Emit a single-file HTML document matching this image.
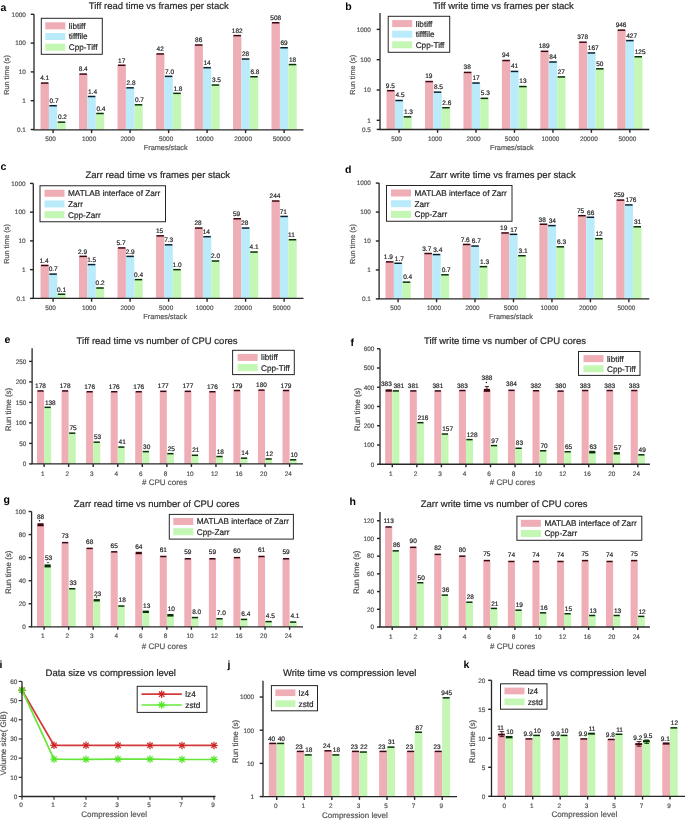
<!DOCTYPE html>
<html><head><meta charset="utf-8"><style>
html,body{margin:0;padding:0;background:#fff;}
svg{display:block;font-family:"Liberation Sans", sans-serif;text-rendering:geometricPrecision;will-change:transform;}
</style></head><body>
<svg width="685" height="820" viewBox="0 0 685 820">
<rect width="685" height="820" fill="#fff"/>
<rect x="40.50" y="83.05" width="8.40" height="46.75" fill="#efadb5"/>
<rect x="48.90" y="105.71" width="8.40" height="24.09" fill="#b9ebfa"/>
<rect x="57.30" y="122.15" width="8.40" height="7.65" fill="#c3f7b3"/>
<rect x="79.00" y="74.08" width="8.40" height="55.72" fill="#efadb5"/>
<rect x="87.40" y="96.49" width="8.40" height="33.31" fill="#b9ebfa"/>
<rect x="95.80" y="113.48" width="8.40" height="16.32" fill="#c3f7b3"/>
<rect x="117.50" y="65.26" width="8.40" height="64.54" fill="#efadb5"/>
<rect x="125.90" y="87.82" width="8.40" height="41.98" fill="#b9ebfa"/>
<rect x="134.30" y="104.81" width="8.40" height="24.99" fill="#c3f7b3"/>
<rect x="156.00" y="53.95" width="8.40" height="75.85" fill="#efadb5"/>
<rect x="164.40" y="76.36" width="8.40" height="53.44" fill="#b9ebfa"/>
<rect x="172.80" y="93.35" width="8.40" height="36.45" fill="#c3f7b3"/>
<rect x="194.50" y="44.99" width="8.40" height="84.81" fill="#efadb5"/>
<rect x="202.90" y="67.69" width="8.40" height="62.11" fill="#b9ebfa"/>
<rect x="211.30" y="85.03" width="8.40" height="44.77" fill="#c3f7b3"/>
<rect x="233.00" y="35.61" width="8.40" height="94.19" fill="#efadb5"/>
<rect x="241.40" y="59.02" width="8.40" height="70.78" fill="#b9ebfa"/>
<rect x="249.80" y="76.72" width="8.40" height="53.08" fill="#c3f7b3"/>
<rect x="271.50" y="22.77" width="8.40" height="107.03" fill="#efadb5"/>
<rect x="279.90" y="47.74" width="8.40" height="82.06" fill="#b9ebfa"/>
<rect x="288.30" y="64.55" width="8.40" height="65.25" fill="#c3f7b3"/>
<line x1="40.95" y1="83.05" x2="48.45" y2="83.05" stroke="#3a0610" stroke-width="1.5"/>
<text x="44.70" y="80.35" font-size="6.5" fill="#262626" text-anchor="middle" font-weight="normal" stroke="#262626" stroke-width="0.2">4.1</text>
<line x1="49.35" y1="105.71" x2="56.85" y2="105.71" stroke="#062030" stroke-width="1.5"/>
<text x="49.50" y="103.01" font-size="6.5" fill="#262626" text-anchor="start" font-weight="normal" stroke="#262626" stroke-width="0.2">0.7</text>
<line x1="57.75" y1="122.15" x2="65.25" y2="122.15" stroke="#063006" stroke-width="1.5"/>
<text x="57.90" y="119.45" font-size="6.5" fill="#262626" text-anchor="start" font-weight="normal" stroke="#262626" stroke-width="0.2">0.2</text>
<line x1="79.45" y1="74.08" x2="86.95" y2="74.08" stroke="#3a0610" stroke-width="1.5"/>
<text x="83.20" y="71.38" font-size="6.5" fill="#262626" text-anchor="middle" font-weight="normal" stroke="#262626" stroke-width="0.2">8.4</text>
<line x1="87.85" y1="96.49" x2="95.35" y2="96.49" stroke="#062030" stroke-width="1.5"/>
<text x="88.00" y="93.79" font-size="6.5" fill="#262626" text-anchor="start" font-weight="normal" stroke="#262626" stroke-width="0.2">1.4</text>
<line x1="96.25" y1="113.48" x2="103.75" y2="113.48" stroke="#063006" stroke-width="1.5"/>
<text x="96.40" y="110.78" font-size="6.5" fill="#262626" text-anchor="start" font-weight="normal" stroke="#262626" stroke-width="0.2">0.4</text>
<line x1="117.95" y1="65.26" x2="125.45" y2="65.26" stroke="#3a0610" stroke-width="1.5"/>
<text x="121.70" y="62.56" font-size="6.5" fill="#262626" text-anchor="middle" font-weight="normal" stroke="#262626" stroke-width="0.2">17</text>
<line x1="126.35" y1="87.82" x2="133.85" y2="87.82" stroke="#062030" stroke-width="1.5"/>
<text x="126.50" y="85.12" font-size="6.5" fill="#262626" text-anchor="start" font-weight="normal" stroke="#262626" stroke-width="0.2">2.8</text>
<line x1="134.75" y1="104.81" x2="142.25" y2="104.81" stroke="#063006" stroke-width="1.5"/>
<text x="134.90" y="102.11" font-size="6.5" fill="#262626" text-anchor="start" font-weight="normal" stroke="#262626" stroke-width="0.2">0.7</text>
<line x1="156.45" y1="53.95" x2="163.95" y2="53.95" stroke="#3a0610" stroke-width="1.5"/>
<text x="160.20" y="51.25" font-size="6.5" fill="#262626" text-anchor="middle" font-weight="normal" stroke="#262626" stroke-width="0.2">42</text>
<line x1="164.85" y1="76.36" x2="172.35" y2="76.36" stroke="#062030" stroke-width="1.5"/>
<text x="165.00" y="73.66" font-size="6.5" fill="#262626" text-anchor="start" font-weight="normal" stroke="#262626" stroke-width="0.2">7.0</text>
<line x1="173.25" y1="93.35" x2="180.75" y2="93.35" stroke="#063006" stroke-width="1.5"/>
<text x="173.40" y="90.65" font-size="6.5" fill="#262626" text-anchor="start" font-weight="normal" stroke="#262626" stroke-width="0.2">1.8</text>
<line x1="194.95" y1="44.99" x2="202.45" y2="44.99" stroke="#3a0610" stroke-width="1.5"/>
<text x="198.70" y="42.29" font-size="6.5" fill="#262626" text-anchor="middle" font-weight="normal" stroke="#262626" stroke-width="0.2">86</text>
<line x1="203.35" y1="67.69" x2="210.85" y2="67.69" stroke="#062030" stroke-width="1.5"/>
<text x="203.50" y="64.99" font-size="6.5" fill="#262626" text-anchor="start" font-weight="normal" stroke="#262626" stroke-width="0.2">14</text>
<line x1="211.75" y1="85.03" x2="219.25" y2="85.03" stroke="#063006" stroke-width="1.5"/>
<text x="211.90" y="82.33" font-size="6.5" fill="#262626" text-anchor="start" font-weight="normal" stroke="#262626" stroke-width="0.2">3.5</text>
<line x1="233.45" y1="35.61" x2="240.95" y2="35.61" stroke="#3a0610" stroke-width="1.5"/>
<text x="237.20" y="32.91" font-size="6.5" fill="#262626" text-anchor="middle" font-weight="normal" stroke="#262626" stroke-width="0.2">182</text>
<line x1="241.85" y1="59.02" x2="249.35" y2="59.02" stroke="#062030" stroke-width="1.5"/>
<text x="242.00" y="56.32" font-size="6.5" fill="#262626" text-anchor="start" font-weight="normal" stroke="#262626" stroke-width="0.2">28</text>
<line x1="250.25" y1="76.72" x2="257.75" y2="76.72" stroke="#063006" stroke-width="1.5"/>
<text x="250.40" y="74.02" font-size="6.5" fill="#262626" text-anchor="start" font-weight="normal" stroke="#262626" stroke-width="0.2">6.8</text>
<line x1="271.95" y1="22.77" x2="279.45" y2="22.77" stroke="#3a0610" stroke-width="1.5"/>
<text x="275.70" y="20.07" font-size="6.5" fill="#262626" text-anchor="middle" font-weight="normal" stroke="#262626" stroke-width="0.2">508</text>
<line x1="280.35" y1="47.74" x2="287.85" y2="47.74" stroke="#062030" stroke-width="1.5"/>
<text x="280.50" y="45.04" font-size="6.5" fill="#262626" text-anchor="start" font-weight="normal" stroke="#262626" stroke-width="0.2">69</text>
<line x1="288.75" y1="64.55" x2="296.25" y2="64.55" stroke="#063006" stroke-width="1.5"/>
<text x="288.90" y="61.85" font-size="6.5" fill="#262626" text-anchor="start" font-weight="normal" stroke="#262626" stroke-width="0.2">18</text>
<line x1="34.00" y1="14.30" x2="34.00" y2="129.80" stroke="#262626" stroke-width="1.3"/>
<line x1="33.35" y1="129.80" x2="303.50" y2="129.80" stroke="#262626" stroke-width="1.3"/>
<line x1="30.70" y1="14.30" x2="34.00" y2="14.30" stroke="#262626" stroke-width="1.4"/>
<text x="25.80" y="16.60" font-size="6.4" fill="#555555" text-anchor="end" font-weight="normal" stroke="#555555" stroke-width="0.2">1000</text>
<line x1="30.70" y1="43.10" x2="34.00" y2="43.10" stroke="#262626" stroke-width="1.4"/>
<text x="25.80" y="45.40" font-size="6.4" fill="#555555" text-anchor="end" font-weight="normal" stroke="#555555" stroke-width="0.2">100</text>
<line x1="30.70" y1="71.90" x2="34.00" y2="71.90" stroke="#262626" stroke-width="1.4"/>
<text x="25.80" y="74.20" font-size="6.4" fill="#555555" text-anchor="end" font-weight="normal" stroke="#555555" stroke-width="0.2">10</text>
<line x1="30.70" y1="100.70" x2="34.00" y2="100.70" stroke="#262626" stroke-width="1.4"/>
<text x="25.80" y="103.00" font-size="6.4" fill="#555555" text-anchor="end" font-weight="normal" stroke="#555555" stroke-width="0.2">1</text>
<line x1="30.70" y1="129.50" x2="34.00" y2="129.50" stroke="#262626" stroke-width="1.4"/>
<text x="25.80" y="131.80" font-size="6.4" fill="#555555" text-anchor="end" font-weight="normal" stroke="#555555" stroke-width="0.2">0.1</text>
<line x1="53.10" y1="129.80" x2="53.10" y2="133.10" stroke="#262626" stroke-width="1.4"/>
<text x="50.60" y="141.20" font-size="6.4" fill="#555555" text-anchor="middle" font-weight="normal" stroke="#555555" stroke-width="0.2">500</text>
<line x1="91.60" y1="129.80" x2="91.60" y2="133.10" stroke="#262626" stroke-width="1.4"/>
<text x="89.10" y="141.20" font-size="6.4" fill="#555555" text-anchor="middle" font-weight="normal" stroke="#555555" stroke-width="0.2">1000</text>
<line x1="130.10" y1="129.80" x2="130.10" y2="133.10" stroke="#262626" stroke-width="1.4"/>
<text x="127.60" y="141.20" font-size="6.4" fill="#555555" text-anchor="middle" font-weight="normal" stroke="#555555" stroke-width="0.2">2000</text>
<line x1="168.60" y1="129.80" x2="168.60" y2="133.10" stroke="#262626" stroke-width="1.4"/>
<text x="166.10" y="141.20" font-size="6.4" fill="#555555" text-anchor="middle" font-weight="normal" stroke="#555555" stroke-width="0.2">5000</text>
<line x1="207.10" y1="129.80" x2="207.10" y2="133.10" stroke="#262626" stroke-width="1.4"/>
<text x="204.60" y="141.20" font-size="6.4" fill="#555555" text-anchor="middle" font-weight="normal" stroke="#555555" stroke-width="0.2">10000</text>
<line x1="245.60" y1="129.80" x2="245.60" y2="133.10" stroke="#262626" stroke-width="1.4"/>
<text x="243.10" y="141.20" font-size="6.4" fill="#555555" text-anchor="middle" font-weight="normal" stroke="#555555" stroke-width="0.2">20000</text>
<line x1="284.10" y1="129.80" x2="284.10" y2="133.10" stroke="#262626" stroke-width="1.4"/>
<text x="281.60" y="141.20" font-size="6.4" fill="#555555" text-anchor="middle" font-weight="normal" stroke="#555555" stroke-width="0.2">50000</text>
<text x="165.70" y="149.70" font-size="7.3" fill="#555555" text-anchor="middle" font-weight="normal" stroke="#555555" stroke-width="0.2">Frames/stack</text>
<text x="8.80" y="75.00" font-size="7.3" fill="#555555" text-anchor="middle" font-weight="normal" stroke="#555555" stroke-width="0.2" transform="rotate(-90 8.80 75.00)">Run time (s)</text>
<text x="158.75" y="9.30" font-size="9.5" fill="#262626" text-anchor="middle" font-weight="normal" stroke="#262626" stroke-width="0.2">Tiff read time vs frames per stack</text>
<text x="0.50" y="11.00" font-size="10.5" fill="#000" text-anchor="start" font-weight="bold">a</text>
<rect x="41.30" y="18.30" width="61.00" height="36.00" fill="#fff" stroke="#262626" stroke-width="1.0"/>
<rect x="45.30" y="22.30" width="20.00" height="7.00" fill="#efadb5"/>
<text x="68.80" y="28.75" font-size="8.2" fill="#262626" text-anchor="start" font-weight="normal" stroke="#262626" stroke-width="0.2">libtiff</text>
<rect x="45.30" y="33.00" width="20.00" height="7.00" fill="#b9ebfa"/>
<text x="68.80" y="39.45" font-size="8.2" fill="#262626" text-anchor="start" font-weight="normal" stroke="#262626" stroke-width="0.2">tifffile</text>
<rect x="45.30" y="43.70" width="20.00" height="7.00" fill="#c3f7b3"/>
<text x="68.80" y="50.15" font-size="8.2" fill="#262626" text-anchor="start" font-weight="normal" stroke="#262626" stroke-width="0.2">Cpp-Tiff</text>
<rect x="386.50" y="90.67" width="8.40" height="38.83" fill="#efadb5"/>
<rect x="394.90" y="100.51" width="8.40" height="28.99" fill="#b9ebfa"/>
<rect x="403.30" y="116.85" width="8.40" height="12.65" fill="#c3f7b3"/>
<rect x="424.96" y="81.55" width="8.40" height="47.95" fill="#efadb5"/>
<rect x="433.36" y="92.14" width="8.40" height="37.36" fill="#b9ebfa"/>
<rect x="441.76" y="107.73" width="8.40" height="21.77" fill="#c3f7b3"/>
<rect x="463.42" y="72.43" width="8.40" height="57.07" fill="#efadb5"/>
<rect x="471.82" y="83.02" width="8.40" height="46.48" fill="#b9ebfa"/>
<rect x="480.22" y="98.35" width="8.40" height="31.15" fill="#c3f7b3"/>
<rect x="501.88" y="60.51" width="8.40" height="68.99" fill="#efadb5"/>
<rect x="510.28" y="71.43" width="8.40" height="58.07" fill="#b9ebfa"/>
<rect x="518.68" y="86.55" width="8.40" height="42.95" fill="#c3f7b3"/>
<rect x="540.34" y="51.32" width="8.40" height="78.18" fill="#efadb5"/>
<rect x="548.74" y="61.99" width="8.40" height="67.51" fill="#b9ebfa"/>
<rect x="557.14" y="76.93" width="8.40" height="52.57" fill="#c3f7b3"/>
<rect x="578.80" y="42.20" width="8.40" height="87.30" fill="#efadb5"/>
<rect x="587.20" y="52.95" width="8.40" height="76.55" fill="#b9ebfa"/>
<rect x="595.60" y="68.82" width="8.40" height="60.68" fill="#c3f7b3"/>
<rect x="617.26" y="30.13" width="8.40" height="99.37" fill="#efadb5"/>
<rect x="625.66" y="40.60" width="8.40" height="88.90" fill="#b9ebfa"/>
<rect x="634.06" y="56.76" width="8.40" height="72.74" fill="#c3f7b3"/>
<line x1="386.95" y1="90.67" x2="394.45" y2="90.67" stroke="#3a0610" stroke-width="1.5"/>
<text x="390.30" y="87.57" font-size="6.5" fill="#262626" text-anchor="middle" font-weight="normal" stroke="#262626" stroke-width="0.2">9.5</text>
<line x1="395.35" y1="100.51" x2="402.85" y2="100.51" stroke="#062030" stroke-width="1.5"/>
<text x="395.50" y="97.41" font-size="6.5" fill="#262626" text-anchor="start" font-weight="normal" stroke="#262626" stroke-width="0.2">4.5</text>
<line x1="403.75" y1="116.85" x2="411.25" y2="116.85" stroke="#063006" stroke-width="1.5"/>
<text x="403.90" y="113.75" font-size="6.5" fill="#262626" text-anchor="start" font-weight="normal" stroke="#262626" stroke-width="0.2">1.3</text>
<line x1="425.41" y1="81.55" x2="432.91" y2="81.55" stroke="#3a0610" stroke-width="1.5"/>
<text x="428.76" y="78.45" font-size="6.5" fill="#262626" text-anchor="middle" font-weight="normal" stroke="#262626" stroke-width="0.2">19</text>
<line x1="433.81" y1="92.14" x2="441.31" y2="92.14" stroke="#062030" stroke-width="1.5"/>
<text x="433.96" y="89.04" font-size="6.5" fill="#262626" text-anchor="start" font-weight="normal" stroke="#262626" stroke-width="0.2">8.5</text>
<line x1="442.21" y1="107.73" x2="449.71" y2="107.73" stroke="#063006" stroke-width="1.5"/>
<text x="442.36" y="104.63" font-size="6.5" fill="#262626" text-anchor="start" font-weight="normal" stroke="#262626" stroke-width="0.2">2.6</text>
<line x1="463.87" y1="72.43" x2="471.37" y2="72.43" stroke="#3a0610" stroke-width="1.5"/>
<text x="467.22" y="69.33" font-size="6.5" fill="#262626" text-anchor="middle" font-weight="normal" stroke="#262626" stroke-width="0.2">38</text>
<line x1="472.27" y1="83.02" x2="479.77" y2="83.02" stroke="#062030" stroke-width="1.5"/>
<text x="472.42" y="79.92" font-size="6.5" fill="#262626" text-anchor="start" font-weight="normal" stroke="#262626" stroke-width="0.2">17</text>
<line x1="480.67" y1="98.35" x2="488.17" y2="98.35" stroke="#063006" stroke-width="1.5"/>
<text x="480.82" y="95.25" font-size="6.5" fill="#262626" text-anchor="start" font-weight="normal" stroke="#262626" stroke-width="0.2">5.3</text>
<line x1="502.33" y1="60.51" x2="509.83" y2="60.51" stroke="#3a0610" stroke-width="1.5"/>
<text x="505.68" y="57.41" font-size="6.5" fill="#262626" text-anchor="middle" font-weight="normal" stroke="#262626" stroke-width="0.2">94</text>
<line x1="510.73" y1="71.43" x2="518.23" y2="71.43" stroke="#062030" stroke-width="1.5"/>
<text x="510.88" y="68.33" font-size="6.5" fill="#262626" text-anchor="start" font-weight="normal" stroke="#262626" stroke-width="0.2">41</text>
<line x1="519.13" y1="86.55" x2="526.63" y2="86.55" stroke="#063006" stroke-width="1.5"/>
<text x="519.28" y="83.45" font-size="6.5" fill="#262626" text-anchor="start" font-weight="normal" stroke="#262626" stroke-width="0.2">13</text>
<line x1="540.79" y1="51.32" x2="548.29" y2="51.32" stroke="#3a0610" stroke-width="1.5"/>
<text x="544.14" y="48.22" font-size="6.5" fill="#262626" text-anchor="middle" font-weight="normal" stroke="#262626" stroke-width="0.2">189</text>
<line x1="549.19" y1="61.99" x2="556.69" y2="61.99" stroke="#062030" stroke-width="1.5"/>
<text x="549.34" y="58.89" font-size="6.5" fill="#262626" text-anchor="start" font-weight="normal" stroke="#262626" stroke-width="0.2">84</text>
<line x1="557.59" y1="76.93" x2="565.09" y2="76.93" stroke="#063006" stroke-width="1.5"/>
<text x="557.74" y="73.83" font-size="6.5" fill="#262626" text-anchor="start" font-weight="normal" stroke="#262626" stroke-width="0.2">27</text>
<line x1="579.25" y1="42.20" x2="586.75" y2="42.20" stroke="#3a0610" stroke-width="1.5"/>
<text x="582.60" y="39.10" font-size="6.5" fill="#262626" text-anchor="middle" font-weight="normal" stroke="#262626" stroke-width="0.2">378</text>
<line x1="587.65" y1="52.95" x2="595.15" y2="52.95" stroke="#062030" stroke-width="1.5"/>
<text x="587.80" y="49.85" font-size="6.5" fill="#262626" text-anchor="start" font-weight="normal" stroke="#262626" stroke-width="0.2">167</text>
<line x1="596.05" y1="68.82" x2="603.55" y2="68.82" stroke="#063006" stroke-width="1.5"/>
<text x="596.20" y="65.72" font-size="6.5" fill="#262626" text-anchor="start" font-weight="normal" stroke="#262626" stroke-width="0.2">50</text>
<line x1="617.71" y1="30.13" x2="625.21" y2="30.13" stroke="#3a0610" stroke-width="1.5"/>
<text x="621.06" y="27.03" font-size="6.5" fill="#262626" text-anchor="middle" font-weight="normal" stroke="#262626" stroke-width="0.2">946</text>
<line x1="626.11" y1="40.60" x2="633.61" y2="40.60" stroke="#062030" stroke-width="1.5"/>
<text x="626.26" y="37.50" font-size="6.5" fill="#262626" text-anchor="start" font-weight="normal" stroke="#262626" stroke-width="0.2">427</text>
<line x1="634.51" y1="56.76" x2="642.01" y2="56.76" stroke="#063006" stroke-width="1.5"/>
<text x="634.66" y="53.66" font-size="6.5" fill="#262626" text-anchor="start" font-weight="normal" stroke="#262626" stroke-width="0.2">125</text>
<line x1="380.00" y1="13.00" x2="380.00" y2="129.50" stroke="#262626" stroke-width="1.3"/>
<line x1="379.35" y1="129.50" x2="649.30" y2="129.50" stroke="#262626" stroke-width="1.3"/>
<line x1="376.70" y1="29.40" x2="380.00" y2="29.40" stroke="#262626" stroke-width="1.4"/>
<text x="370.90" y="31.70" font-size="6.4" fill="#555555" text-anchor="end" font-weight="normal" stroke="#555555" stroke-width="0.2">1000</text>
<line x1="376.70" y1="59.70" x2="380.00" y2="59.70" stroke="#262626" stroke-width="1.4"/>
<text x="370.90" y="62.00" font-size="6.4" fill="#555555" text-anchor="end" font-weight="normal" stroke="#555555" stroke-width="0.2">100</text>
<line x1="376.70" y1="90.00" x2="380.00" y2="90.00" stroke="#262626" stroke-width="1.4"/>
<text x="370.90" y="92.30" font-size="6.4" fill="#555555" text-anchor="end" font-weight="normal" stroke="#555555" stroke-width="0.2">10</text>
<line x1="376.70" y1="120.30" x2="380.00" y2="120.30" stroke="#262626" stroke-width="1.4"/>
<text x="370.90" y="122.60" font-size="6.4" fill="#555555" text-anchor="end" font-weight="normal" stroke="#555555" stroke-width="0.2">1</text>
<line x1="376.70" y1="129.42" x2="380.00" y2="129.42" stroke="#262626" stroke-width="1.4"/>
<text x="370.90" y="131.73" font-size="6.4" fill="#555555" text-anchor="end" font-weight="normal" stroke="#555555" stroke-width="0.2">0.5</text>
<line x1="399.10" y1="129.50" x2="399.10" y2="132.80" stroke="#262626" stroke-width="1.4"/>
<text x="396.60" y="140.90" font-size="6.4" fill="#555555" text-anchor="middle" font-weight="normal" stroke="#555555" stroke-width="0.2">500</text>
<line x1="437.56" y1="129.50" x2="437.56" y2="132.80" stroke="#262626" stroke-width="1.4"/>
<text x="435.06" y="140.90" font-size="6.4" fill="#555555" text-anchor="middle" font-weight="normal" stroke="#555555" stroke-width="0.2">1000</text>
<line x1="476.02" y1="129.50" x2="476.02" y2="132.80" stroke="#262626" stroke-width="1.4"/>
<text x="473.52" y="140.90" font-size="6.4" fill="#555555" text-anchor="middle" font-weight="normal" stroke="#555555" stroke-width="0.2">2000</text>
<line x1="514.48" y1="129.50" x2="514.48" y2="132.80" stroke="#262626" stroke-width="1.4"/>
<text x="511.98" y="140.90" font-size="6.4" fill="#555555" text-anchor="middle" font-weight="normal" stroke="#555555" stroke-width="0.2">5000</text>
<line x1="552.94" y1="129.50" x2="552.94" y2="132.80" stroke="#262626" stroke-width="1.4"/>
<text x="550.44" y="140.90" font-size="6.4" fill="#555555" text-anchor="middle" font-weight="normal" stroke="#555555" stroke-width="0.2">10000</text>
<line x1="591.40" y1="129.50" x2="591.40" y2="132.80" stroke="#262626" stroke-width="1.4"/>
<text x="588.90" y="140.90" font-size="6.4" fill="#555555" text-anchor="middle" font-weight="normal" stroke="#555555" stroke-width="0.2">20000</text>
<line x1="629.86" y1="129.50" x2="629.86" y2="132.80" stroke="#262626" stroke-width="1.4"/>
<text x="627.36" y="140.90" font-size="6.4" fill="#555555" text-anchor="middle" font-weight="normal" stroke="#555555" stroke-width="0.2">50000</text>
<text x="511.85" y="149.50" font-size="7.3" fill="#555555" text-anchor="middle" font-weight="normal" stroke="#555555" stroke-width="0.2">Frames/stack</text>
<text x="355.00" y="74.75" font-size="7.3" fill="#555555" text-anchor="middle" font-weight="normal" stroke="#555555" stroke-width="0.2" transform="rotate(-90 355.00 74.75)">Run time (s)</text>
<text x="503.40" y="9.00" font-size="9.5" fill="#262626" text-anchor="middle" font-weight="normal" stroke="#262626" stroke-width="0.2">Tiff write time vs frames per stack</text>
<text x="345.20" y="9.80" font-size="10.5" fill="#000" text-anchor="start" font-weight="bold">b</text>
<rect x="388.20" y="16.30" width="61.50" height="36.00" fill="#fff" stroke="#262626" stroke-width="1.0"/>
<rect x="392.20" y="20.10" width="20.00" height="7.00" fill="#efadb5"/>
<text x="415.70" y="26.55" font-size="8.2" fill="#262626" text-anchor="start" font-weight="normal" stroke="#262626" stroke-width="0.2">libtiff</text>
<rect x="392.20" y="30.70" width="20.00" height="7.00" fill="#b9ebfa"/>
<text x="415.70" y="37.15" font-size="8.2" fill="#262626" text-anchor="start" font-weight="normal" stroke="#262626" stroke-width="0.2">tifffile</text>
<rect x="392.20" y="41.30" width="20.00" height="7.00" fill="#c3f7b3"/>
<text x="415.70" y="47.75" font-size="8.2" fill="#262626" text-anchor="start" font-weight="normal" stroke="#262626" stroke-width="0.2">Cpp-Tiff</text>
<rect x="40.50" y="265.45" width="8.40" height="32.95" fill="#efadb5"/>
<rect x="48.90" y="274.10" width="8.40" height="24.30" fill="#b9ebfa"/>
<rect x="57.30" y="294.20" width="8.40" height="4.20" fill="#c3f7b3"/>
<rect x="79.00" y="256.36" width="8.40" height="42.04" fill="#efadb5"/>
<rect x="87.40" y="264.59" width="8.40" height="33.81" fill="#b9ebfa"/>
<rect x="95.80" y="288.00" width="8.40" height="10.40" fill="#c3f7b3"/>
<rect x="117.50" y="247.92" width="8.40" height="50.48" fill="#efadb5"/>
<rect x="125.90" y="256.36" width="8.40" height="42.04" fill="#b9ebfa"/>
<rect x="134.30" y="279.62" width="8.40" height="18.78" fill="#c3f7b3"/>
<rect x="156.00" y="235.84" width="8.40" height="62.56" fill="#efadb5"/>
<rect x="164.40" y="244.83" width="8.40" height="53.57" fill="#b9ebfa"/>
<rect x="172.80" y="269.65" width="8.40" height="28.75" fill="#c3f7b3"/>
<rect x="194.50" y="228.04" width="8.40" height="70.36" fill="#efadb5"/>
<rect x="202.90" y="236.70" width="8.40" height="61.70" fill="#b9ebfa"/>
<rect x="211.30" y="261.00" width="8.40" height="37.40" fill="#c3f7b3"/>
<rect x="233.00" y="218.74" width="8.40" height="79.66" fill="#efadb5"/>
<rect x="241.40" y="228.04" width="8.40" height="70.36" fill="#b9ebfa"/>
<rect x="249.80" y="252.03" width="8.40" height="46.37" fill="#c3f7b3"/>
<rect x="271.50" y="201.01" width="8.40" height="97.39" fill="#efadb5"/>
<rect x="279.90" y="216.43" width="8.40" height="81.97" fill="#b9ebfa"/>
<rect x="288.30" y="239.71" width="8.40" height="58.69" fill="#c3f7b3"/>
<line x1="40.95" y1="265.45" x2="48.45" y2="265.45" stroke="#3a0610" stroke-width="1.5"/>
<text x="44.00" y="262.75" font-size="6.5" fill="#262626" text-anchor="middle" font-weight="normal" stroke="#262626" stroke-width="0.2">1.4</text>
<line x1="49.35" y1="274.10" x2="56.85" y2="274.10" stroke="#062030" stroke-width="1.5"/>
<text x="48.70" y="271.40" font-size="6.5" fill="#262626" text-anchor="start" font-weight="normal" stroke="#262626" stroke-width="0.2">0.7</text>
<line x1="57.75" y1="294.20" x2="65.25" y2="294.20" stroke="#063006" stroke-width="1.5"/>
<text x="57.10" y="291.50" font-size="6.5" fill="#262626" text-anchor="start" font-weight="normal" stroke="#262626" stroke-width="0.2">0.1</text>
<line x1="79.45" y1="256.36" x2="86.95" y2="256.36" stroke="#3a0610" stroke-width="1.5"/>
<text x="82.50" y="253.66" font-size="6.5" fill="#262626" text-anchor="middle" font-weight="normal" stroke="#262626" stroke-width="0.2">2.9</text>
<line x1="87.85" y1="264.59" x2="95.35" y2="264.59" stroke="#062030" stroke-width="1.5"/>
<text x="87.20" y="261.89" font-size="6.5" fill="#262626" text-anchor="start" font-weight="normal" stroke="#262626" stroke-width="0.2">1.5</text>
<line x1="96.25" y1="288.00" x2="103.75" y2="288.00" stroke="#063006" stroke-width="1.5"/>
<text x="95.60" y="285.30" font-size="6.5" fill="#262626" text-anchor="start" font-weight="normal" stroke="#262626" stroke-width="0.2">0.2</text>
<line x1="117.95" y1="247.92" x2="125.45" y2="247.92" stroke="#3a0610" stroke-width="1.5"/>
<text x="121.00" y="245.22" font-size="6.5" fill="#262626" text-anchor="middle" font-weight="normal" stroke="#262626" stroke-width="0.2">5.7</text>
<line x1="126.35" y1="256.36" x2="133.85" y2="256.36" stroke="#062030" stroke-width="1.5"/>
<text x="125.70" y="253.66" font-size="6.5" fill="#262626" text-anchor="start" font-weight="normal" stroke="#262626" stroke-width="0.2">2.9</text>
<line x1="134.75" y1="279.62" x2="142.25" y2="279.62" stroke="#063006" stroke-width="1.5"/>
<text x="134.10" y="276.92" font-size="6.5" fill="#262626" text-anchor="start" font-weight="normal" stroke="#262626" stroke-width="0.2">0.4</text>
<line x1="156.45" y1="235.84" x2="163.95" y2="235.84" stroke="#3a0610" stroke-width="1.5"/>
<text x="159.50" y="233.14" font-size="6.5" fill="#262626" text-anchor="middle" font-weight="normal" stroke="#262626" stroke-width="0.2">15</text>
<line x1="164.85" y1="244.83" x2="172.35" y2="244.83" stroke="#062030" stroke-width="1.5"/>
<text x="164.20" y="242.13" font-size="6.5" fill="#262626" text-anchor="start" font-weight="normal" stroke="#262626" stroke-width="0.2">7.3</text>
<line x1="173.25" y1="269.65" x2="180.75" y2="269.65" stroke="#063006" stroke-width="1.5"/>
<text x="172.60" y="266.95" font-size="6.5" fill="#262626" text-anchor="start" font-weight="normal" stroke="#262626" stroke-width="0.2">1.0</text>
<line x1="194.95" y1="228.04" x2="202.45" y2="228.04" stroke="#3a0610" stroke-width="1.5"/>
<text x="198.00" y="225.34" font-size="6.5" fill="#262626" text-anchor="middle" font-weight="normal" stroke="#262626" stroke-width="0.2">28</text>
<line x1="203.35" y1="236.70" x2="210.85" y2="236.70" stroke="#062030" stroke-width="1.5"/>
<text x="202.70" y="234.00" font-size="6.5" fill="#262626" text-anchor="start" font-weight="normal" stroke="#262626" stroke-width="0.2">14</text>
<line x1="211.75" y1="261.00" x2="219.25" y2="261.00" stroke="#063006" stroke-width="1.5"/>
<text x="211.10" y="258.30" font-size="6.5" fill="#262626" text-anchor="start" font-weight="normal" stroke="#262626" stroke-width="0.2">2.0</text>
<line x1="233.45" y1="218.74" x2="240.95" y2="218.74" stroke="#3a0610" stroke-width="1.5"/>
<text x="236.50" y="216.04" font-size="6.5" fill="#262626" text-anchor="middle" font-weight="normal" stroke="#262626" stroke-width="0.2">59</text>
<line x1="241.85" y1="228.04" x2="249.35" y2="228.04" stroke="#062030" stroke-width="1.5"/>
<text x="241.20" y="225.34" font-size="6.5" fill="#262626" text-anchor="start" font-weight="normal" stroke="#262626" stroke-width="0.2">28</text>
<line x1="250.25" y1="252.03" x2="257.75" y2="252.03" stroke="#063006" stroke-width="1.5"/>
<text x="249.60" y="249.33" font-size="6.5" fill="#262626" text-anchor="start" font-weight="normal" stroke="#262626" stroke-width="0.2">4.1</text>
<line x1="271.95" y1="201.01" x2="279.45" y2="201.01" stroke="#3a0610" stroke-width="1.5"/>
<text x="275.00" y="198.31" font-size="6.5" fill="#262626" text-anchor="middle" font-weight="normal" stroke="#262626" stroke-width="0.2">244</text>
<line x1="280.35" y1="216.43" x2="287.85" y2="216.43" stroke="#062030" stroke-width="1.5"/>
<text x="279.70" y="213.73" font-size="6.5" fill="#262626" text-anchor="start" font-weight="normal" stroke="#262626" stroke-width="0.2">71</text>
<line x1="288.75" y1="239.71" x2="296.25" y2="239.71" stroke="#063006" stroke-width="1.5"/>
<text x="288.10" y="237.01" font-size="6.5" fill="#262626" text-anchor="start" font-weight="normal" stroke="#262626" stroke-width="0.2">11</text>
<line x1="33.30" y1="183.40" x2="33.30" y2="298.40" stroke="#262626" stroke-width="1.3"/>
<line x1="32.65" y1="298.40" x2="303.50" y2="298.40" stroke="#262626" stroke-width="1.3"/>
<line x1="30.00" y1="183.40" x2="33.30" y2="183.40" stroke="#262626" stroke-width="1.4"/>
<text x="25.50" y="185.70" font-size="6.4" fill="#555555" text-anchor="end" font-weight="normal" stroke="#555555" stroke-width="0.2">1000</text>
<line x1="30.00" y1="212.15" x2="33.30" y2="212.15" stroke="#262626" stroke-width="1.4"/>
<text x="25.50" y="214.45" font-size="6.4" fill="#555555" text-anchor="end" font-weight="normal" stroke="#555555" stroke-width="0.2">100</text>
<line x1="30.00" y1="240.90" x2="33.30" y2="240.90" stroke="#262626" stroke-width="1.4"/>
<text x="25.50" y="243.20" font-size="6.4" fill="#555555" text-anchor="end" font-weight="normal" stroke="#555555" stroke-width="0.2">10</text>
<line x1="30.00" y1="269.65" x2="33.30" y2="269.65" stroke="#262626" stroke-width="1.4"/>
<text x="25.50" y="271.95" font-size="6.4" fill="#555555" text-anchor="end" font-weight="normal" stroke="#555555" stroke-width="0.2">1</text>
<line x1="30.00" y1="298.40" x2="33.30" y2="298.40" stroke="#262626" stroke-width="1.4"/>
<text x="25.50" y="300.70" font-size="6.4" fill="#555555" text-anchor="end" font-weight="normal" stroke="#555555" stroke-width="0.2">0.1</text>
<line x1="53.10" y1="298.40" x2="53.10" y2="301.70" stroke="#262626" stroke-width="1.4"/>
<text x="50.60" y="309.90" font-size="6.4" fill="#555555" text-anchor="middle" font-weight="normal" stroke="#555555" stroke-width="0.2">500</text>
<line x1="91.60" y1="298.40" x2="91.60" y2="301.70" stroke="#262626" stroke-width="1.4"/>
<text x="89.10" y="309.90" font-size="6.4" fill="#555555" text-anchor="middle" font-weight="normal" stroke="#555555" stroke-width="0.2">1000</text>
<line x1="130.10" y1="298.40" x2="130.10" y2="301.70" stroke="#262626" stroke-width="1.4"/>
<text x="127.60" y="309.90" font-size="6.4" fill="#555555" text-anchor="middle" font-weight="normal" stroke="#555555" stroke-width="0.2">2000</text>
<line x1="168.60" y1="298.40" x2="168.60" y2="301.70" stroke="#262626" stroke-width="1.4"/>
<text x="166.10" y="309.90" font-size="6.4" fill="#555555" text-anchor="middle" font-weight="normal" stroke="#555555" stroke-width="0.2">5000</text>
<line x1="207.10" y1="298.40" x2="207.10" y2="301.70" stroke="#262626" stroke-width="1.4"/>
<text x="204.60" y="309.90" font-size="6.4" fill="#555555" text-anchor="middle" font-weight="normal" stroke="#555555" stroke-width="0.2">10000</text>
<line x1="245.60" y1="298.40" x2="245.60" y2="301.70" stroke="#262626" stroke-width="1.4"/>
<text x="243.10" y="309.90" font-size="6.4" fill="#555555" text-anchor="middle" font-weight="normal" stroke="#555555" stroke-width="0.2">20000</text>
<line x1="284.10" y1="298.40" x2="284.10" y2="301.70" stroke="#262626" stroke-width="1.4"/>
<text x="281.60" y="309.90" font-size="6.4" fill="#555555" text-anchor="middle" font-weight="normal" stroke="#555555" stroke-width="0.2">50000</text>
<text x="165.15" y="318.80" font-size="7.3" fill="#555555" text-anchor="middle" font-weight="normal" stroke="#555555" stroke-width="0.2">Frames/stack</text>
<text x="8.50" y="244.00" font-size="7.3" fill="#555555" text-anchor="middle" font-weight="normal" stroke="#555555" stroke-width="0.2" transform="rotate(-90 8.50 244.00)">Run time (s)</text>
<text x="157.80" y="178.10" font-size="9.5" fill="#262626" text-anchor="middle" font-weight="normal" stroke="#262626" stroke-width="0.2">Zarr read time vs frames per stack</text>
<text x="0.50" y="170.00" font-size="10.5" fill="#000" text-anchor="start" font-weight="bold">c</text>
<rect x="40.00" y="185.75" width="125.50" height="36.00" fill="#fff" stroke="#262626" stroke-width="1.0"/>
<rect x="44.50" y="189.75" width="20.00" height="7.00" fill="#efadb5"/>
<text x="68.00" y="196.20" font-size="8.2" fill="#262626" text-anchor="start" font-weight="normal" stroke="#262626" stroke-width="0.2">MATLAB interface of Zarr</text>
<rect x="44.50" y="200.45" width="20.00" height="7.00" fill="#b9ebfa"/>
<text x="68.00" y="206.90" font-size="8.2" fill="#262626" text-anchor="start" font-weight="normal" stroke="#262626" stroke-width="0.2">Zarr</text>
<rect x="44.50" y="211.15" width="20.00" height="7.00" fill="#c3f7b3"/>
<text x="68.00" y="217.60" font-size="8.2" fill="#262626" text-anchor="start" font-weight="normal" stroke="#262626" stroke-width="0.2">Cpp-Zarr</text>
<rect x="385.50" y="261.88" width="8.40" height="37.02" fill="#efadb5"/>
<rect x="393.90" y="263.28" width="8.40" height="35.62" fill="#b9ebfa"/>
<rect x="402.30" y="282.12" width="8.40" height="16.78" fill="#c3f7b3"/>
<rect x="423.96" y="253.50" width="8.40" height="45.40" fill="#efadb5"/>
<rect x="432.36" y="254.56" width="8.40" height="44.34" fill="#b9ebfa"/>
<rect x="440.76" y="274.80" width="8.40" height="24.10" fill="#c3f7b3"/>
<rect x="462.42" y="244.45" width="8.40" height="54.45" fill="#efadb5"/>
<rect x="470.82" y="246.04" width="8.40" height="52.86" fill="#b9ebfa"/>
<rect x="479.22" y="266.65" width="8.40" height="32.25" fill="#c3f7b3"/>
<rect x="500.88" y="232.93" width="8.40" height="65.97" fill="#efadb5"/>
<rect x="509.28" y="234.33" width="8.40" height="64.57" fill="#b9ebfa"/>
<rect x="517.68" y="255.73" width="8.40" height="43.17" fill="#c3f7b3"/>
<rect x="539.34" y="224.22" width="8.40" height="74.68" fill="#efadb5"/>
<rect x="547.74" y="225.61" width="8.40" height="73.29" fill="#b9ebfa"/>
<rect x="556.14" y="246.81" width="8.40" height="52.09" fill="#c3f7b3"/>
<rect x="577.80" y="215.67" width="8.40" height="83.23" fill="#efadb5"/>
<rect x="586.20" y="217.27" width="8.40" height="81.63" fill="#b9ebfa"/>
<rect x="594.60" y="238.71" width="8.40" height="60.19" fill="#c3f7b3"/>
<rect x="616.26" y="200.08" width="8.40" height="98.82" fill="#efadb5"/>
<rect x="624.66" y="204.94" width="8.40" height="93.96" fill="#b9ebfa"/>
<rect x="633.06" y="226.78" width="8.40" height="72.12" fill="#c3f7b3"/>
<line x1="385.95" y1="261.88" x2="393.45" y2="261.88" stroke="#3a0610" stroke-width="1.5"/>
<text x="388.30" y="259.18" font-size="6.5" fill="#262626" text-anchor="middle" font-weight="normal" stroke="#262626" stroke-width="0.2">1.9</text>
<line x1="394.35" y1="263.28" x2="401.85" y2="263.28" stroke="#062030" stroke-width="1.5"/>
<text x="394.80" y="260.58" font-size="6.5" fill="#262626" text-anchor="start" font-weight="normal" stroke="#262626" stroke-width="0.2">1.7</text>
<line x1="402.75" y1="282.12" x2="410.25" y2="282.12" stroke="#063006" stroke-width="1.5"/>
<text x="403.20" y="279.42" font-size="6.5" fill="#262626" text-anchor="start" font-weight="normal" stroke="#262626" stroke-width="0.2">0.4</text>
<line x1="424.41" y1="253.50" x2="431.91" y2="253.50" stroke="#3a0610" stroke-width="1.5"/>
<text x="426.76" y="250.80" font-size="6.5" fill="#262626" text-anchor="middle" font-weight="normal" stroke="#262626" stroke-width="0.2">3.7</text>
<line x1="432.81" y1="254.56" x2="440.31" y2="254.56" stroke="#062030" stroke-width="1.5"/>
<text x="433.26" y="251.86" font-size="6.5" fill="#262626" text-anchor="start" font-weight="normal" stroke="#262626" stroke-width="0.2">3.4</text>
<line x1="441.21" y1="274.80" x2="448.71" y2="274.80" stroke="#063006" stroke-width="1.5"/>
<text x="441.66" y="272.10" font-size="6.5" fill="#262626" text-anchor="start" font-weight="normal" stroke="#262626" stroke-width="0.2">0.7</text>
<line x1="462.87" y1="244.45" x2="470.37" y2="244.45" stroke="#3a0610" stroke-width="1.5"/>
<text x="465.22" y="241.75" font-size="6.5" fill="#262626" text-anchor="middle" font-weight="normal" stroke="#262626" stroke-width="0.2">7.6</text>
<line x1="471.27" y1="246.04" x2="478.77" y2="246.04" stroke="#062030" stroke-width="1.5"/>
<text x="471.72" y="243.34" font-size="6.5" fill="#262626" text-anchor="start" font-weight="normal" stroke="#262626" stroke-width="0.2">6.7</text>
<line x1="479.67" y1="266.65" x2="487.17" y2="266.65" stroke="#063006" stroke-width="1.5"/>
<text x="480.12" y="263.95" font-size="6.5" fill="#262626" text-anchor="start" font-weight="normal" stroke="#262626" stroke-width="0.2">1.3</text>
<line x1="501.33" y1="232.93" x2="508.83" y2="232.93" stroke="#3a0610" stroke-width="1.5"/>
<text x="503.68" y="230.23" font-size="6.5" fill="#262626" text-anchor="middle" font-weight="normal" stroke="#262626" stroke-width="0.2">19</text>
<line x1="509.73" y1="234.33" x2="517.23" y2="234.33" stroke="#062030" stroke-width="1.5"/>
<text x="510.18" y="231.63" font-size="6.5" fill="#262626" text-anchor="start" font-weight="normal" stroke="#262626" stroke-width="0.2">17</text>
<line x1="518.13" y1="255.73" x2="525.63" y2="255.73" stroke="#063006" stroke-width="1.5"/>
<text x="518.58" y="253.03" font-size="6.5" fill="#262626" text-anchor="start" font-weight="normal" stroke="#262626" stroke-width="0.2">3.1</text>
<line x1="539.79" y1="224.22" x2="547.29" y2="224.22" stroke="#3a0610" stroke-width="1.5"/>
<text x="542.14" y="221.52" font-size="6.5" fill="#262626" text-anchor="middle" font-weight="normal" stroke="#262626" stroke-width="0.2">38</text>
<line x1="548.19" y1="225.61" x2="555.69" y2="225.61" stroke="#062030" stroke-width="1.5"/>
<text x="548.64" y="222.91" font-size="6.5" fill="#262626" text-anchor="start" font-weight="normal" stroke="#262626" stroke-width="0.2">34</text>
<line x1="556.59" y1="246.81" x2="564.09" y2="246.81" stroke="#063006" stroke-width="1.5"/>
<text x="557.04" y="244.11" font-size="6.5" fill="#262626" text-anchor="start" font-weight="normal" stroke="#262626" stroke-width="0.2">6.3</text>
<line x1="578.25" y1="215.67" x2="585.75" y2="215.67" stroke="#3a0610" stroke-width="1.5"/>
<text x="580.60" y="212.97" font-size="6.5" fill="#262626" text-anchor="middle" font-weight="normal" stroke="#262626" stroke-width="0.2">75</text>
<line x1="586.65" y1="217.27" x2="594.15" y2="217.27" stroke="#062030" stroke-width="1.5"/>
<text x="587.10" y="214.57" font-size="6.5" fill="#262626" text-anchor="start" font-weight="normal" stroke="#262626" stroke-width="0.2">66</text>
<line x1="595.05" y1="238.71" x2="602.55" y2="238.71" stroke="#063006" stroke-width="1.5"/>
<text x="595.50" y="236.01" font-size="6.5" fill="#262626" text-anchor="start" font-weight="normal" stroke="#262626" stroke-width="0.2">12</text>
<line x1="616.71" y1="200.08" x2="624.21" y2="200.08" stroke="#3a0610" stroke-width="1.5"/>
<text x="619.06" y="197.38" font-size="6.5" fill="#262626" text-anchor="middle" font-weight="normal" stroke="#262626" stroke-width="0.2">259</text>
<line x1="625.11" y1="204.94" x2="632.61" y2="204.94" stroke="#062030" stroke-width="1.5"/>
<text x="625.56" y="202.24" font-size="6.5" fill="#262626" text-anchor="start" font-weight="normal" stroke="#262626" stroke-width="0.2">176</text>
<line x1="633.51" y1="226.78" x2="641.01" y2="226.78" stroke="#063006" stroke-width="1.5"/>
<text x="633.96" y="224.08" font-size="6.5" fill="#262626" text-anchor="start" font-weight="normal" stroke="#262626" stroke-width="0.2">31</text>
<line x1="379.10" y1="183.10" x2="379.10" y2="298.90" stroke="#262626" stroke-width="1.3"/>
<line x1="378.45" y1="298.90" x2="649.30" y2="298.90" stroke="#262626" stroke-width="1.3"/>
<line x1="375.80" y1="183.10" x2="379.10" y2="183.10" stroke="#262626" stroke-width="1.4"/>
<text x="370.90" y="185.40" font-size="6.4" fill="#555555" text-anchor="end" font-weight="normal" stroke="#555555" stroke-width="0.2">1000</text>
<line x1="375.80" y1="212.05" x2="379.10" y2="212.05" stroke="#262626" stroke-width="1.4"/>
<text x="370.90" y="214.35" font-size="6.4" fill="#555555" text-anchor="end" font-weight="normal" stroke="#555555" stroke-width="0.2">100</text>
<line x1="375.80" y1="241.00" x2="379.10" y2="241.00" stroke="#262626" stroke-width="1.4"/>
<text x="370.90" y="243.30" font-size="6.4" fill="#555555" text-anchor="end" font-weight="normal" stroke="#555555" stroke-width="0.2">10</text>
<line x1="375.80" y1="269.95" x2="379.10" y2="269.95" stroke="#262626" stroke-width="1.4"/>
<text x="370.90" y="272.25" font-size="6.4" fill="#555555" text-anchor="end" font-weight="normal" stroke="#555555" stroke-width="0.2">1</text>
<line x1="375.80" y1="298.90" x2="379.10" y2="298.90" stroke="#262626" stroke-width="1.4"/>
<text x="370.90" y="301.20" font-size="6.4" fill="#555555" text-anchor="end" font-weight="normal" stroke="#555555" stroke-width="0.2">0.1</text>
<line x1="398.10" y1="298.90" x2="398.10" y2="302.20" stroke="#262626" stroke-width="1.4"/>
<text x="395.60" y="310.00" font-size="6.4" fill="#555555" text-anchor="middle" font-weight="normal" stroke="#555555" stroke-width="0.2">500</text>
<line x1="436.56" y1="298.90" x2="436.56" y2="302.20" stroke="#262626" stroke-width="1.4"/>
<text x="434.06" y="310.00" font-size="6.4" fill="#555555" text-anchor="middle" font-weight="normal" stroke="#555555" stroke-width="0.2">1000</text>
<line x1="475.02" y1="298.90" x2="475.02" y2="302.20" stroke="#262626" stroke-width="1.4"/>
<text x="472.52" y="310.00" font-size="6.4" fill="#555555" text-anchor="middle" font-weight="normal" stroke="#555555" stroke-width="0.2">2000</text>
<line x1="513.48" y1="298.90" x2="513.48" y2="302.20" stroke="#262626" stroke-width="1.4"/>
<text x="510.98" y="310.00" font-size="6.4" fill="#555555" text-anchor="middle" font-weight="normal" stroke="#555555" stroke-width="0.2">5000</text>
<line x1="551.94" y1="298.90" x2="551.94" y2="302.20" stroke="#262626" stroke-width="1.4"/>
<text x="549.44" y="310.00" font-size="6.4" fill="#555555" text-anchor="middle" font-weight="normal" stroke="#555555" stroke-width="0.2">10000</text>
<line x1="590.40" y1="298.90" x2="590.40" y2="302.20" stroke="#262626" stroke-width="1.4"/>
<text x="587.90" y="310.00" font-size="6.4" fill="#555555" text-anchor="middle" font-weight="normal" stroke="#555555" stroke-width="0.2">20000</text>
<line x1="628.86" y1="298.90" x2="628.86" y2="302.20" stroke="#262626" stroke-width="1.4"/>
<text x="626.36" y="310.00" font-size="6.4" fill="#555555" text-anchor="middle" font-weight="normal" stroke="#555555" stroke-width="0.2">50000</text>
<text x="510.95" y="318.80" font-size="7.3" fill="#555555" text-anchor="middle" font-weight="normal" stroke="#555555" stroke-width="0.2">Frames/stack</text>
<text x="354.80" y="244.00" font-size="7.3" fill="#555555" text-anchor="middle" font-weight="normal" stroke="#555555" stroke-width="0.2" transform="rotate(-90 354.80 244.00)">Run time (s)</text>
<text x="502.80" y="178.10" font-size="9.5" fill="#262626" text-anchor="middle" font-weight="normal" stroke="#262626" stroke-width="0.2">Zarr write time vs frames per stack</text>
<text x="345.00" y="173.40" font-size="10.5" fill="#000" text-anchor="start" font-weight="bold">d</text>
<rect x="386.50" y="185.50" width="125.50" height="35.75" fill="#fff" stroke="#262626" stroke-width="1.0"/>
<rect x="391.00" y="189.50" width="20.00" height="7.00" fill="#efadb5"/>
<text x="414.50" y="195.95" font-size="8.2" fill="#262626" text-anchor="start" font-weight="normal" stroke="#262626" stroke-width="0.2">MATLAB interface of Zarr</text>
<rect x="391.00" y="200.20" width="20.00" height="7.00" fill="#b9ebfa"/>
<text x="414.50" y="206.65" font-size="8.2" fill="#262626" text-anchor="start" font-weight="normal" stroke="#262626" stroke-width="0.2">Zarr</text>
<rect x="391.00" y="210.90" width="20.00" height="7.00" fill="#c3f7b3"/>
<text x="414.50" y="217.35" font-size="8.2" fill="#262626" text-anchor="start" font-weight="normal" stroke="#262626" stroke-width="0.2">Cpp-Zarr</text>
<rect x="37.00" y="390.92" width="7.10" height="72.98" fill="#efadb5"/>
<rect x="44.10" y="407.32" width="7.10" height="56.58" fill="#c3f7b3"/>
<rect x="61.55" y="390.92" width="7.10" height="72.98" fill="#efadb5"/>
<rect x="68.65" y="433.15" width="7.10" height="30.75" fill="#c3f7b3"/>
<rect x="86.10" y="391.74" width="7.10" height="72.16" fill="#efadb5"/>
<rect x="93.20" y="442.17" width="7.10" height="21.73" fill="#c3f7b3"/>
<rect x="110.65" y="391.74" width="7.10" height="72.16" fill="#efadb5"/>
<rect x="117.75" y="447.09" width="7.10" height="16.81" fill="#c3f7b3"/>
<rect x="135.20" y="391.74" width="7.10" height="72.16" fill="#efadb5"/>
<rect x="142.30" y="451.60" width="7.10" height="12.30" fill="#c3f7b3"/>
<rect x="159.75" y="391.33" width="7.10" height="72.57" fill="#efadb5"/>
<rect x="166.85" y="453.65" width="7.10" height="10.25" fill="#c3f7b3"/>
<rect x="184.30" y="391.33" width="7.10" height="72.57" fill="#efadb5"/>
<rect x="191.40" y="455.29" width="7.10" height="8.61" fill="#c3f7b3"/>
<rect x="208.85" y="391.74" width="7.10" height="72.16" fill="#efadb5"/>
<rect x="215.95" y="456.52" width="7.10" height="7.38" fill="#c3f7b3"/>
<rect x="233.40" y="390.51" width="7.10" height="73.39" fill="#efadb5"/>
<rect x="240.50" y="458.16" width="7.10" height="5.74" fill="#c3f7b3"/>
<rect x="257.95" y="390.10" width="7.10" height="73.80" fill="#efadb5"/>
<rect x="265.05" y="458.98" width="7.10" height="4.92" fill="#c3f7b3"/>
<rect x="282.50" y="390.51" width="7.10" height="73.39" fill="#efadb5"/>
<rect x="289.60" y="459.80" width="7.10" height="4.10" fill="#c3f7b3"/>
<line x1="37.45" y1="390.92" x2="43.65" y2="390.92" stroke="#3a0610" stroke-width="1.5"/>
<text x="40.55" y="387.92" font-size="6.5" fill="#262626" text-anchor="middle" font-weight="normal" stroke="#262626" stroke-width="0.2">178</text>
<line x1="44.55" y1="407.32" x2="50.75" y2="407.32" stroke="#063006" stroke-width="1.5"/>
<text x="44.90" y="404.52" font-size="6.5" fill="#262626" text-anchor="start" font-weight="normal" stroke="#262626" stroke-width="0.2">138</text>
<line x1="62.00" y1="390.92" x2="68.20" y2="390.92" stroke="#3a0610" stroke-width="1.5"/>
<text x="65.10" y="387.92" font-size="6.5" fill="#262626" text-anchor="middle" font-weight="normal" stroke="#262626" stroke-width="0.2">178</text>
<line x1="69.10" y1="433.15" x2="75.30" y2="433.15" stroke="#063006" stroke-width="1.5"/>
<text x="69.45" y="430.35" font-size="6.5" fill="#262626" text-anchor="start" font-weight="normal" stroke="#262626" stroke-width="0.2">75</text>
<line x1="86.55" y1="391.74" x2="92.75" y2="391.74" stroke="#3a0610" stroke-width="1.5"/>
<text x="89.65" y="388.74" font-size="6.5" fill="#262626" text-anchor="middle" font-weight="normal" stroke="#262626" stroke-width="0.2">176</text>
<line x1="93.65" y1="442.17" x2="99.85" y2="442.17" stroke="#063006" stroke-width="1.5"/>
<text x="94.00" y="439.37" font-size="6.5" fill="#262626" text-anchor="start" font-weight="normal" stroke="#262626" stroke-width="0.2">53</text>
<line x1="111.10" y1="391.74" x2="117.30" y2="391.74" stroke="#3a0610" stroke-width="1.5"/>
<text x="114.20" y="388.74" font-size="6.5" fill="#262626" text-anchor="middle" font-weight="normal" stroke="#262626" stroke-width="0.2">176</text>
<line x1="118.20" y1="447.09" x2="124.40" y2="447.09" stroke="#063006" stroke-width="1.5"/>
<text x="118.55" y="444.29" font-size="6.5" fill="#262626" text-anchor="start" font-weight="normal" stroke="#262626" stroke-width="0.2">41</text>
<line x1="135.65" y1="391.74" x2="141.85" y2="391.74" stroke="#3a0610" stroke-width="1.5"/>
<text x="138.75" y="388.74" font-size="6.5" fill="#262626" text-anchor="middle" font-weight="normal" stroke="#262626" stroke-width="0.2">176</text>
<line x1="142.75" y1="451.60" x2="148.95" y2="451.60" stroke="#063006" stroke-width="1.5"/>
<text x="143.10" y="448.80" font-size="6.5" fill="#262626" text-anchor="start" font-weight="normal" stroke="#262626" stroke-width="0.2">30</text>
<line x1="160.20" y1="391.33" x2="166.40" y2="391.33" stroke="#3a0610" stroke-width="1.5"/>
<text x="163.30" y="388.33" font-size="6.5" fill="#262626" text-anchor="middle" font-weight="normal" stroke="#262626" stroke-width="0.2">177</text>
<line x1="167.30" y1="453.65" x2="173.50" y2="453.65" stroke="#063006" stroke-width="1.5"/>
<text x="167.65" y="450.85" font-size="6.5" fill="#262626" text-anchor="start" font-weight="normal" stroke="#262626" stroke-width="0.2">25</text>
<line x1="184.75" y1="391.33" x2="190.95" y2="391.33" stroke="#3a0610" stroke-width="1.5"/>
<text x="187.85" y="388.33" font-size="6.5" fill="#262626" text-anchor="middle" font-weight="normal" stroke="#262626" stroke-width="0.2">177</text>
<line x1="191.85" y1="455.29" x2="198.05" y2="455.29" stroke="#063006" stroke-width="1.5"/>
<text x="192.20" y="452.49" font-size="6.5" fill="#262626" text-anchor="start" font-weight="normal" stroke="#262626" stroke-width="0.2">21</text>
<line x1="209.30" y1="391.74" x2="215.50" y2="391.74" stroke="#3a0610" stroke-width="1.5"/>
<text x="212.40" y="388.74" font-size="6.5" fill="#262626" text-anchor="middle" font-weight="normal" stroke="#262626" stroke-width="0.2">176</text>
<line x1="216.40" y1="456.52" x2="222.60" y2="456.52" stroke="#063006" stroke-width="1.5"/>
<text x="216.75" y="453.72" font-size="6.5" fill="#262626" text-anchor="start" font-weight="normal" stroke="#262626" stroke-width="0.2">18</text>
<line x1="233.85" y1="390.51" x2="240.05" y2="390.51" stroke="#3a0610" stroke-width="1.5"/>
<text x="236.95" y="387.51" font-size="6.5" fill="#262626" text-anchor="middle" font-weight="normal" stroke="#262626" stroke-width="0.2">179</text>
<line x1="240.95" y1="458.16" x2="247.15" y2="458.16" stroke="#063006" stroke-width="1.5"/>
<text x="241.30" y="455.36" font-size="6.5" fill="#262626" text-anchor="start" font-weight="normal" stroke="#262626" stroke-width="0.2">14</text>
<line x1="258.40" y1="390.10" x2="264.60" y2="390.10" stroke="#3a0610" stroke-width="1.5"/>
<text x="261.50" y="387.10" font-size="6.5" fill="#262626" text-anchor="middle" font-weight="normal" stroke="#262626" stroke-width="0.2">180</text>
<line x1="265.50" y1="458.98" x2="271.70" y2="458.98" stroke="#063006" stroke-width="1.5"/>
<text x="265.85" y="456.18" font-size="6.5" fill="#262626" text-anchor="start" font-weight="normal" stroke="#262626" stroke-width="0.2">12</text>
<line x1="282.95" y1="390.51" x2="289.15" y2="390.51" stroke="#3a0610" stroke-width="1.5"/>
<text x="286.05" y="387.51" font-size="6.5" fill="#262626" text-anchor="middle" font-weight="normal" stroke="#262626" stroke-width="0.2">179</text>
<line x1="290.05" y1="459.80" x2="296.25" y2="459.80" stroke="#063006" stroke-width="1.5"/>
<text x="290.40" y="457.00" font-size="6.5" fill="#262626" text-anchor="start" font-weight="normal" stroke="#262626" stroke-width="0.2">10</text>
<line x1="32.10" y1="348.25" x2="32.10" y2="463.90" stroke="#262626" stroke-width="1.3"/>
<line x1="31.45" y1="463.90" x2="303.00" y2="463.90" stroke="#262626" stroke-width="1.3"/>
<line x1="29.10" y1="463.90" x2="32.10" y2="463.90" stroke="#262626" stroke-width="1.4"/>
<text x="26.40" y="466.20" font-size="6.4" fill="#555555" text-anchor="end" font-weight="normal" stroke="#555555" stroke-width="0.2">0</text>
<line x1="29.10" y1="443.40" x2="32.10" y2="443.40" stroke="#262626" stroke-width="1.4"/>
<text x="26.40" y="445.70" font-size="6.4" fill="#555555" text-anchor="end" font-weight="normal" stroke="#555555" stroke-width="0.2">50</text>
<line x1="29.10" y1="422.90" x2="32.10" y2="422.90" stroke="#262626" stroke-width="1.4"/>
<text x="26.40" y="425.20" font-size="6.4" fill="#555555" text-anchor="end" font-weight="normal" stroke="#555555" stroke-width="0.2">100</text>
<line x1="29.10" y1="402.40" x2="32.10" y2="402.40" stroke="#262626" stroke-width="1.4"/>
<text x="26.40" y="404.70" font-size="6.4" fill="#555555" text-anchor="end" font-weight="normal" stroke="#555555" stroke-width="0.2">150</text>
<line x1="29.10" y1="381.90" x2="32.10" y2="381.90" stroke="#262626" stroke-width="1.4"/>
<text x="26.40" y="384.20" font-size="6.4" fill="#555555" text-anchor="end" font-weight="normal" stroke="#555555" stroke-width="0.2">200</text>
<line x1="29.10" y1="361.40" x2="32.10" y2="361.40" stroke="#262626" stroke-width="1.4"/>
<text x="26.40" y="363.70" font-size="6.4" fill="#555555" text-anchor="end" font-weight="normal" stroke="#555555" stroke-width="0.2">250</text>
<line x1="44.10" y1="463.90" x2="44.10" y2="466.90" stroke="#262626" stroke-width="1.4"/>
<text x="42.70" y="475.50" font-size="6.4" fill="#555555" text-anchor="middle" font-weight="normal" stroke="#555555" stroke-width="0.2">1</text>
<line x1="68.65" y1="463.90" x2="68.65" y2="466.90" stroke="#262626" stroke-width="1.4"/>
<text x="67.25" y="475.50" font-size="6.4" fill="#555555" text-anchor="middle" font-weight="normal" stroke="#555555" stroke-width="0.2">2</text>
<line x1="93.20" y1="463.90" x2="93.20" y2="466.90" stroke="#262626" stroke-width="1.4"/>
<text x="91.80" y="475.50" font-size="6.4" fill="#555555" text-anchor="middle" font-weight="normal" stroke="#555555" stroke-width="0.2">3</text>
<line x1="117.75" y1="463.90" x2="117.75" y2="466.90" stroke="#262626" stroke-width="1.4"/>
<text x="116.35" y="475.50" font-size="6.4" fill="#555555" text-anchor="middle" font-weight="normal" stroke="#555555" stroke-width="0.2">4</text>
<line x1="142.30" y1="463.90" x2="142.30" y2="466.90" stroke="#262626" stroke-width="1.4"/>
<text x="140.90" y="475.50" font-size="6.4" fill="#555555" text-anchor="middle" font-weight="normal" stroke="#555555" stroke-width="0.2">6</text>
<line x1="166.85" y1="463.90" x2="166.85" y2="466.90" stroke="#262626" stroke-width="1.4"/>
<text x="165.45" y="475.50" font-size="6.4" fill="#555555" text-anchor="middle" font-weight="normal" stroke="#555555" stroke-width="0.2">8</text>
<line x1="191.40" y1="463.90" x2="191.40" y2="466.90" stroke="#262626" stroke-width="1.4"/>
<text x="190.00" y="475.50" font-size="6.4" fill="#555555" text-anchor="middle" font-weight="normal" stroke="#555555" stroke-width="0.2">10</text>
<line x1="215.95" y1="463.90" x2="215.95" y2="466.90" stroke="#262626" stroke-width="1.4"/>
<text x="214.55" y="475.50" font-size="6.4" fill="#555555" text-anchor="middle" font-weight="normal" stroke="#555555" stroke-width="0.2">12</text>
<line x1="240.50" y1="463.90" x2="240.50" y2="466.90" stroke="#262626" stroke-width="1.4"/>
<text x="239.10" y="475.50" font-size="6.4" fill="#555555" text-anchor="middle" font-weight="normal" stroke="#555555" stroke-width="0.2">16</text>
<line x1="265.05" y1="463.90" x2="265.05" y2="466.90" stroke="#262626" stroke-width="1.4"/>
<text x="263.65" y="475.50" font-size="6.4" fill="#555555" text-anchor="middle" font-weight="normal" stroke="#555555" stroke-width="0.2">20</text>
<line x1="289.60" y1="463.90" x2="289.60" y2="466.90" stroke="#262626" stroke-width="1.4"/>
<text x="288.20" y="475.50" font-size="6.4" fill="#555555" text-anchor="middle" font-weight="normal" stroke="#555555" stroke-width="0.2">24</text>
<text x="164.65" y="485.40" font-size="8.0" fill="#555555" text-anchor="middle" font-weight="normal" stroke="#555555" stroke-width="0.2"># CPU cores</text>
<text x="10.90" y="409.50" font-size="8.0" fill="#555555" text-anchor="middle" font-weight="normal" stroke="#555555" stroke-width="0.2" transform="rotate(-90 10.90 409.50)">Run time (s)</text>
<text x="157.10" y="343.70" font-size="9.5" fill="#262626" text-anchor="middle" font-weight="normal" stroke="#262626" stroke-width="0.2">Tiff read time vs number of CPU cores</text>
<text x="4.50" y="343.00" font-size="10.5" fill="#000" text-anchor="start" font-weight="bold">e</text>
<rect x="232.60" y="350.30" width="61.70" height="24.30" fill="#fff" stroke="#262626" stroke-width="1.0"/>
<rect x="237.60" y="353.90" width="20.00" height="7.00" fill="#efadb5"/>
<text x="261.10" y="360.35" font-size="8.2" fill="#262626" text-anchor="start" font-weight="normal" stroke="#262626" stroke-width="0.2">libtiff</text>
<rect x="237.60" y="364.10" width="20.00" height="7.00" fill="#c3f7b3"/>
<text x="261.10" y="370.55" font-size="8.2" fill="#262626" text-anchor="start" font-weight="normal" stroke="#262626" stroke-width="0.2">Cpp-Tiff</text>
<rect x="385.20" y="390.52" width="7.10" height="73.73" fill="#efadb5"/>
<rect x="392.30" y="390.91" width="7.10" height="73.34" fill="#c3f7b3"/>
<rect x="409.75" y="390.91" width="7.10" height="73.34" fill="#efadb5"/>
<rect x="416.85" y="422.67" width="7.10" height="41.58" fill="#c3f7b3"/>
<rect x="434.30" y="390.91" width="7.10" height="73.34" fill="#efadb5"/>
<rect x="441.40" y="434.03" width="7.10" height="30.22" fill="#c3f7b3"/>
<rect x="458.85" y="390.52" width="7.10" height="73.73" fill="#efadb5"/>
<rect x="465.95" y="439.61" width="7.10" height="24.64" fill="#c3f7b3"/>
<rect x="483.40" y="390.33" width="7.10" height="73.92" fill="#efadb5"/>
<rect x="490.50" y="445.58" width="7.10" height="18.67" fill="#c3f7b3"/>
<rect x="507.95" y="390.33" width="7.10" height="73.92" fill="#efadb5"/>
<rect x="515.05" y="448.27" width="7.10" height="15.98" fill="#c3f7b3"/>
<rect x="532.50" y="390.72" width="7.10" height="73.53" fill="#efadb5"/>
<rect x="539.60" y="450.77" width="7.10" height="13.48" fill="#c3f7b3"/>
<rect x="557.05" y="391.10" width="7.10" height="73.15" fill="#efadb5"/>
<rect x="564.15" y="451.74" width="7.10" height="12.51" fill="#c3f7b3"/>
<rect x="581.60" y="390.52" width="7.10" height="73.73" fill="#efadb5"/>
<rect x="588.70" y="452.12" width="7.10" height="12.13" fill="#c3f7b3"/>
<rect x="606.15" y="390.52" width="7.10" height="73.73" fill="#efadb5"/>
<rect x="613.25" y="453.28" width="7.10" height="10.97" fill="#c3f7b3"/>
<rect x="630.70" y="390.52" width="7.10" height="73.73" fill="#efadb5"/>
<rect x="637.80" y="454.82" width="7.10" height="9.43" fill="#c3f7b3"/>
<line x1="385.65" y1="390.52" x2="391.85" y2="390.52" stroke="#3a0610" stroke-width="2.4"/>
<text x="386.35" y="385.90" font-size="6.5" fill="#262626" text-anchor="middle" font-weight="normal" stroke="#262626" stroke-width="0.2">383</text>
<line x1="392.75" y1="390.91" x2="398.95" y2="390.91" stroke="#063006" stroke-width="1.5"/>
<text x="393.40" y="388.11" font-size="6.5" fill="#262626" text-anchor="start" font-weight="normal" stroke="#262626" stroke-width="0.2">381</text>
<line x1="410.20" y1="390.91" x2="416.40" y2="390.91" stroke="#3a0610" stroke-width="1.5"/>
<text x="413.30" y="387.91" font-size="6.5" fill="#262626" text-anchor="middle" font-weight="normal" stroke="#262626" stroke-width="0.2">381</text>
<line x1="417.30" y1="422.67" x2="423.50" y2="422.67" stroke="#063006" stroke-width="1.5"/>
<text x="417.65" y="419.87" font-size="6.5" fill="#262626" text-anchor="start" font-weight="normal" stroke="#262626" stroke-width="0.2">216</text>
<line x1="434.75" y1="390.91" x2="440.95" y2="390.91" stroke="#3a0610" stroke-width="1.5"/>
<text x="437.85" y="387.91" font-size="6.5" fill="#262626" text-anchor="middle" font-weight="normal" stroke="#262626" stroke-width="0.2">381</text>
<line x1="441.85" y1="434.03" x2="448.05" y2="434.03" stroke="#063006" stroke-width="1.5"/>
<text x="442.20" y="431.23" font-size="6.5" fill="#262626" text-anchor="start" font-weight="normal" stroke="#262626" stroke-width="0.2">157</text>
<line x1="459.30" y1="390.52" x2="465.50" y2="390.52" stroke="#3a0610" stroke-width="1.5"/>
<text x="462.40" y="387.52" font-size="6.5" fill="#262626" text-anchor="middle" font-weight="normal" stroke="#262626" stroke-width="0.2">383</text>
<line x1="466.40" y1="439.61" x2="472.60" y2="439.61" stroke="#063006" stroke-width="1.5"/>
<text x="466.75" y="436.81" font-size="6.5" fill="#262626" text-anchor="start" font-weight="normal" stroke="#262626" stroke-width="0.2">128</text>
<line x1="483.85" y1="390.33" x2="490.05" y2="390.33" stroke="#3a0610" stroke-width="3.0"/>
<text x="486.95" y="379.80" font-size="6.5" fill="#262626" text-anchor="middle" font-weight="normal" stroke="#262626" stroke-width="0.2">388</text>
<line x1="490.95" y1="445.58" x2="497.15" y2="445.58" stroke="#063006" stroke-width="1.5"/>
<text x="491.30" y="442.78" font-size="6.5" fill="#262626" text-anchor="start" font-weight="normal" stroke="#262626" stroke-width="0.2">97</text>
<line x1="508.40" y1="390.33" x2="514.60" y2="390.33" stroke="#3a0610" stroke-width="1.5"/>
<text x="511.50" y="385.90" font-size="6.5" fill="#262626" text-anchor="middle" font-weight="normal" stroke="#262626" stroke-width="0.2">384</text>
<line x1="515.50" y1="448.27" x2="521.70" y2="448.27" stroke="#063006" stroke-width="1.5"/>
<text x="515.85" y="445.47" font-size="6.5" fill="#262626" text-anchor="start" font-weight="normal" stroke="#262626" stroke-width="0.2">83</text>
<line x1="532.95" y1="390.72" x2="539.15" y2="390.72" stroke="#3a0610" stroke-width="1.5"/>
<text x="536.05" y="387.72" font-size="6.5" fill="#262626" text-anchor="middle" font-weight="normal" stroke="#262626" stroke-width="0.2">382</text>
<line x1="540.05" y1="450.77" x2="546.25" y2="450.77" stroke="#063006" stroke-width="1.5"/>
<text x="540.40" y="447.97" font-size="6.5" fill="#262626" text-anchor="start" font-weight="normal" stroke="#262626" stroke-width="0.2">70</text>
<line x1="557.50" y1="391.10" x2="563.70" y2="391.10" stroke="#3a0610" stroke-width="1.5"/>
<text x="560.60" y="388.10" font-size="6.5" fill="#262626" text-anchor="middle" font-weight="normal" stroke="#262626" stroke-width="0.2">380</text>
<line x1="564.60" y1="451.74" x2="570.80" y2="451.74" stroke="#063006" stroke-width="1.5"/>
<text x="564.95" y="448.94" font-size="6.5" fill="#262626" text-anchor="start" font-weight="normal" stroke="#262626" stroke-width="0.2">65</text>
<line x1="582.05" y1="390.52" x2="588.25" y2="390.52" stroke="#3a0610" stroke-width="1.5"/>
<text x="585.15" y="387.52" font-size="6.5" fill="#262626" text-anchor="middle" font-weight="normal" stroke="#262626" stroke-width="0.2">383</text>
<line x1="589.15" y1="452.12" x2="595.35" y2="452.12" stroke="#063006" stroke-width="2.6"/>
<text x="589.50" y="449.32" font-size="6.5" fill="#262626" text-anchor="start" font-weight="normal" stroke="#262626" stroke-width="0.2">63</text>
<line x1="606.60" y1="390.52" x2="612.80" y2="390.52" stroke="#3a0610" stroke-width="1.5"/>
<text x="609.70" y="387.52" font-size="6.5" fill="#262626" text-anchor="middle" font-weight="normal" stroke="#262626" stroke-width="0.2">383</text>
<line x1="613.70" y1="453.28" x2="619.90" y2="453.28" stroke="#063006" stroke-width="2.4"/>
<text x="614.05" y="450.48" font-size="6.5" fill="#262626" text-anchor="start" font-weight="normal" stroke="#262626" stroke-width="0.2">57</text>
<line x1="631.15" y1="390.52" x2="637.35" y2="390.52" stroke="#3a0610" stroke-width="1.5"/>
<text x="634.25" y="387.52" font-size="6.5" fill="#262626" text-anchor="middle" font-weight="normal" stroke="#262626" stroke-width="0.2">383</text>
<line x1="638.25" y1="454.82" x2="644.45" y2="454.82" stroke="#063006" stroke-width="1.5"/>
<text x="638.60" y="452.02" font-size="6.5" fill="#262626" text-anchor="start" font-weight="normal" stroke="#262626" stroke-width="0.2">49</text>
<line x1="380.00" y1="348.75" x2="380.00" y2="464.25" stroke="#262626" stroke-width="1.3"/>
<line x1="379.35" y1="464.25" x2="649.90" y2="464.25" stroke="#262626" stroke-width="1.3"/>
<line x1="377.00" y1="464.25" x2="380.00" y2="464.25" stroke="#262626" stroke-width="1.4"/>
<text x="374.30" y="466.55" font-size="6.4" fill="#555555" text-anchor="end" font-weight="normal" stroke="#555555" stroke-width="0.2">0</text>
<line x1="377.00" y1="445.00" x2="380.00" y2="445.00" stroke="#262626" stroke-width="1.4"/>
<text x="374.30" y="447.30" font-size="6.4" fill="#555555" text-anchor="end" font-weight="normal" stroke="#555555" stroke-width="0.2">100</text>
<line x1="377.00" y1="425.75" x2="380.00" y2="425.75" stroke="#262626" stroke-width="1.4"/>
<text x="374.30" y="428.05" font-size="6.4" fill="#555555" text-anchor="end" font-weight="normal" stroke="#555555" stroke-width="0.2">200</text>
<line x1="377.00" y1="406.50" x2="380.00" y2="406.50" stroke="#262626" stroke-width="1.4"/>
<text x="374.30" y="408.80" font-size="6.4" fill="#555555" text-anchor="end" font-weight="normal" stroke="#555555" stroke-width="0.2">300</text>
<line x1="377.00" y1="387.25" x2="380.00" y2="387.25" stroke="#262626" stroke-width="1.4"/>
<text x="374.30" y="389.55" font-size="6.4" fill="#555555" text-anchor="end" font-weight="normal" stroke="#555555" stroke-width="0.2">400</text>
<line x1="377.00" y1="368.00" x2="380.00" y2="368.00" stroke="#262626" stroke-width="1.4"/>
<text x="374.30" y="370.30" font-size="6.4" fill="#555555" text-anchor="end" font-weight="normal" stroke="#555555" stroke-width="0.2">500</text>
<line x1="377.00" y1="348.75" x2="380.00" y2="348.75" stroke="#262626" stroke-width="1.4"/>
<text x="374.30" y="351.05" font-size="6.4" fill="#555555" text-anchor="end" font-weight="normal" stroke="#555555" stroke-width="0.2">600</text>
<line x1="392.30" y1="464.25" x2="392.30" y2="467.25" stroke="#262626" stroke-width="1.4"/>
<text x="390.90" y="475.85" font-size="6.4" fill="#555555" text-anchor="middle" font-weight="normal" stroke="#555555" stroke-width="0.2">1</text>
<line x1="416.85" y1="464.25" x2="416.85" y2="467.25" stroke="#262626" stroke-width="1.4"/>
<text x="415.45" y="475.85" font-size="6.4" fill="#555555" text-anchor="middle" font-weight="normal" stroke="#555555" stroke-width="0.2">2</text>
<line x1="441.40" y1="464.25" x2="441.40" y2="467.25" stroke="#262626" stroke-width="1.4"/>
<text x="440.00" y="475.85" font-size="6.4" fill="#555555" text-anchor="middle" font-weight="normal" stroke="#555555" stroke-width="0.2">3</text>
<line x1="465.95" y1="464.25" x2="465.95" y2="467.25" stroke="#262626" stroke-width="1.4"/>
<text x="464.55" y="475.85" font-size="6.4" fill="#555555" text-anchor="middle" font-weight="normal" stroke="#555555" stroke-width="0.2">4</text>
<line x1="490.50" y1="464.25" x2="490.50" y2="467.25" stroke="#262626" stroke-width="1.4"/>
<text x="489.10" y="475.85" font-size="6.4" fill="#555555" text-anchor="middle" font-weight="normal" stroke="#555555" stroke-width="0.2">6</text>
<line x1="515.05" y1="464.25" x2="515.05" y2="467.25" stroke="#262626" stroke-width="1.4"/>
<text x="513.65" y="475.85" font-size="6.4" fill="#555555" text-anchor="middle" font-weight="normal" stroke="#555555" stroke-width="0.2">8</text>
<line x1="539.60" y1="464.25" x2="539.60" y2="467.25" stroke="#262626" stroke-width="1.4"/>
<text x="538.20" y="475.85" font-size="6.4" fill="#555555" text-anchor="middle" font-weight="normal" stroke="#555555" stroke-width="0.2">10</text>
<line x1="564.15" y1="464.25" x2="564.15" y2="467.25" stroke="#262626" stroke-width="1.4"/>
<text x="562.75" y="475.85" font-size="6.4" fill="#555555" text-anchor="middle" font-weight="normal" stroke="#555555" stroke-width="0.2">12</text>
<line x1="588.70" y1="464.25" x2="588.70" y2="467.25" stroke="#262626" stroke-width="1.4"/>
<text x="587.30" y="475.85" font-size="6.4" fill="#555555" text-anchor="middle" font-weight="normal" stroke="#555555" stroke-width="0.2">16</text>
<line x1="613.25" y1="464.25" x2="613.25" y2="467.25" stroke="#262626" stroke-width="1.4"/>
<text x="611.85" y="475.85" font-size="6.4" fill="#555555" text-anchor="middle" font-weight="normal" stroke="#555555" stroke-width="0.2">20</text>
<line x1="637.80" y1="464.25" x2="637.80" y2="467.25" stroke="#262626" stroke-width="1.4"/>
<text x="636.40" y="475.85" font-size="6.4" fill="#555555" text-anchor="middle" font-weight="normal" stroke="#555555" stroke-width="0.2">24</text>
<text x="512.50" y="485.40" font-size="8.0" fill="#555555" text-anchor="middle" font-weight="normal" stroke="#555555" stroke-width="0.2"># CPU cores</text>
<text x="359.50" y="409.50" font-size="8.0" fill="#555555" text-anchor="middle" font-weight="normal" stroke="#555555" stroke-width="0.2" transform="rotate(-90 359.50 409.50)">Run time (s)</text>
<text x="505.00" y="344.30" font-size="9.5" fill="#262626" text-anchor="middle" font-weight="normal" stroke="#262626" stroke-width="0.2">Tiff write time vs number of CPU cores</text>
<text x="350.50" y="346.00" font-size="10.5" fill="#000" text-anchor="start" font-weight="bold">f</text>
<rect x="578.50" y="351.50" width="61.50" height="23.90" fill="#fff" stroke="#262626" stroke-width="1.0"/>
<rect x="583.50" y="355.10" width="20.00" height="7.00" fill="#efadb5"/>
<text x="607.00" y="361.55" font-size="8.2" fill="#262626" text-anchor="start" font-weight="normal" stroke="#262626" stroke-width="0.2">libtiff</text>
<rect x="583.50" y="365.30" width="20.00" height="7.00" fill="#c3f7b3"/>
<text x="607.00" y="371.75" font-size="8.2" fill="#262626" text-anchor="start" font-weight="normal" stroke="#262626" stroke-width="0.2">Cpp-Tiff</text>
<line x1="484.9" y1="386.6" x2="489.0" y2="386.6" stroke="#3a0610" stroke-width="0.9"/><line x1="486.95" y1="386.6" x2="486.95" y2="390" stroke="#3a0610" stroke-width="0.9"/>
<circle cx="486.40" cy="382.40" r="0.75" fill="#3a0610"/>
<rect x="37.00" y="524.76" width="7.10" height="102.04" fill="#efadb5"/>
<rect x="44.10" y="565.92" width="7.10" height="60.88" fill="#c3f7b3"/>
<rect x="61.55" y="542.63" width="7.10" height="84.17" fill="#efadb5"/>
<rect x="68.65" y="588.75" width="7.10" height="38.05" fill="#c3f7b3"/>
<rect x="86.10" y="548.40" width="7.10" height="78.40" fill="#efadb5"/>
<rect x="93.20" y="600.28" width="7.10" height="26.52" fill="#c3f7b3"/>
<rect x="110.65" y="551.85" width="7.10" height="74.95" fill="#efadb5"/>
<rect x="117.75" y="606.05" width="7.10" height="20.75" fill="#c3f7b3"/>
<rect x="135.20" y="553.01" width="7.10" height="73.79" fill="#efadb5"/>
<rect x="142.30" y="611.81" width="7.10" height="14.99" fill="#c3f7b3"/>
<rect x="159.75" y="556.47" width="7.10" height="70.33" fill="#efadb5"/>
<rect x="166.85" y="615.27" width="7.10" height="11.53" fill="#c3f7b3"/>
<rect x="184.30" y="558.77" width="7.10" height="68.03" fill="#efadb5"/>
<rect x="191.40" y="617.58" width="7.10" height="9.22" fill="#c3f7b3"/>
<rect x="208.85" y="558.77" width="7.10" height="68.03" fill="#efadb5"/>
<rect x="215.95" y="618.73" width="7.10" height="8.07" fill="#c3f7b3"/>
<rect x="233.40" y="557.62" width="7.10" height="69.18" fill="#efadb5"/>
<rect x="240.50" y="619.42" width="7.10" height="7.38" fill="#c3f7b3"/>
<rect x="257.95" y="556.47" width="7.10" height="70.33" fill="#efadb5"/>
<rect x="265.05" y="621.61" width="7.10" height="5.19" fill="#c3f7b3"/>
<rect x="282.50" y="558.77" width="7.10" height="68.03" fill="#efadb5"/>
<rect x="289.60" y="622.07" width="7.10" height="4.73" fill="#c3f7b3"/>
<line x1="37.45" y1="524.76" x2="43.65" y2="524.76" stroke="#3a0610" stroke-width="3.0"/>
<text x="40.55" y="518.50" font-size="6.5" fill="#262626" text-anchor="middle" font-weight="normal" stroke="#262626" stroke-width="0.2">88</text>
<line x1="44.55" y1="565.92" x2="50.75" y2="565.92" stroke="#063006" stroke-width="3.0"/>
<text x="44.90" y="559.90" font-size="6.5" fill="#262626" text-anchor="start" font-weight="normal" stroke="#262626" stroke-width="0.2">53</text>
<line x1="62.00" y1="542.63" x2="68.20" y2="542.63" stroke="#3a0610" stroke-width="1.5"/>
<text x="65.10" y="538.33" font-size="6.5" fill="#262626" text-anchor="middle" font-weight="normal" stroke="#262626" stroke-width="0.2">73</text>
<line x1="69.10" y1="588.75" x2="75.30" y2="588.75" stroke="#063006" stroke-width="1.5"/>
<text x="69.45" y="584.95" font-size="6.5" fill="#262626" text-anchor="start" font-weight="normal" stroke="#262626" stroke-width="0.2">33</text>
<line x1="86.55" y1="548.40" x2="92.75" y2="548.40" stroke="#3a0610" stroke-width="1.5"/>
<text x="89.65" y="544.10" font-size="6.5" fill="#262626" text-anchor="middle" font-weight="normal" stroke="#262626" stroke-width="0.2">68</text>
<line x1="93.65" y1="600.28" x2="99.85" y2="600.28" stroke="#063006" stroke-width="2.4"/>
<text x="94.00" y="596.48" font-size="6.5" fill="#262626" text-anchor="start" font-weight="normal" stroke="#262626" stroke-width="0.2">23</text>
<line x1="111.10" y1="551.85" x2="117.30" y2="551.85" stroke="#3a0610" stroke-width="1.5"/>
<text x="114.20" y="547.55" font-size="6.5" fill="#262626" text-anchor="middle" font-weight="normal" stroke="#262626" stroke-width="0.2">65</text>
<line x1="118.20" y1="606.05" x2="124.40" y2="606.05" stroke="#063006" stroke-width="1.5"/>
<text x="118.55" y="602.25" font-size="6.5" fill="#262626" text-anchor="start" font-weight="normal" stroke="#262626" stroke-width="0.2">18</text>
<line x1="135.65" y1="553.01" x2="141.85" y2="553.01" stroke="#3a0610" stroke-width="2.4"/>
<text x="138.75" y="548.71" font-size="6.5" fill="#262626" text-anchor="middle" font-weight="normal" stroke="#262626" stroke-width="0.2">64</text>
<line x1="142.75" y1="611.81" x2="148.95" y2="611.81" stroke="#063006" stroke-width="2.4"/>
<text x="143.10" y="608.01" font-size="6.5" fill="#262626" text-anchor="start" font-weight="normal" stroke="#262626" stroke-width="0.2">13</text>
<line x1="160.20" y1="556.47" x2="166.40" y2="556.47" stroke="#3a0610" stroke-width="1.5"/>
<text x="163.30" y="552.17" font-size="6.5" fill="#262626" text-anchor="middle" font-weight="normal" stroke="#262626" stroke-width="0.2">61</text>
<line x1="167.30" y1="615.27" x2="173.50" y2="615.27" stroke="#063006" stroke-width="2.6"/>
<text x="167.65" y="611.47" font-size="6.5" fill="#262626" text-anchor="start" font-weight="normal" stroke="#262626" stroke-width="0.2">10</text>
<line x1="184.75" y1="558.77" x2="190.95" y2="558.77" stroke="#3a0610" stroke-width="1.5"/>
<text x="187.85" y="554.47" font-size="6.5" fill="#262626" text-anchor="middle" font-weight="normal" stroke="#262626" stroke-width="0.2">59</text>
<line x1="191.85" y1="617.58" x2="198.05" y2="617.58" stroke="#063006" stroke-width="1.5"/>
<text x="192.20" y="613.78" font-size="6.5" fill="#262626" text-anchor="start" font-weight="normal" stroke="#262626" stroke-width="0.2">8.0</text>
<line x1="209.30" y1="558.77" x2="215.50" y2="558.77" stroke="#3a0610" stroke-width="1.5"/>
<text x="212.40" y="554.47" font-size="6.5" fill="#262626" text-anchor="middle" font-weight="normal" stroke="#262626" stroke-width="0.2">59</text>
<line x1="216.40" y1="618.73" x2="222.60" y2="618.73" stroke="#063006" stroke-width="1.5"/>
<text x="216.75" y="614.93" font-size="6.5" fill="#262626" text-anchor="start" font-weight="normal" stroke="#262626" stroke-width="0.2">7.0</text>
<line x1="233.85" y1="557.62" x2="240.05" y2="557.62" stroke="#3a0610" stroke-width="1.5"/>
<text x="236.95" y="553.32" font-size="6.5" fill="#262626" text-anchor="middle" font-weight="normal" stroke="#262626" stroke-width="0.2">60</text>
<line x1="240.95" y1="619.42" x2="247.15" y2="619.42" stroke="#063006" stroke-width="1.5"/>
<text x="241.30" y="615.62" font-size="6.5" fill="#262626" text-anchor="start" font-weight="normal" stroke="#262626" stroke-width="0.2">6.4</text>
<line x1="258.40" y1="556.47" x2="264.60" y2="556.47" stroke="#3a0610" stroke-width="1.5"/>
<text x="261.50" y="552.17" font-size="6.5" fill="#262626" text-anchor="middle" font-weight="normal" stroke="#262626" stroke-width="0.2">61</text>
<line x1="265.50" y1="621.61" x2="271.70" y2="621.61" stroke="#063006" stroke-width="1.5"/>
<text x="265.85" y="617.81" font-size="6.5" fill="#262626" text-anchor="start" font-weight="normal" stroke="#262626" stroke-width="0.2">4.5</text>
<line x1="282.95" y1="558.77" x2="289.15" y2="558.77" stroke="#3a0610" stroke-width="1.5"/>
<text x="286.05" y="554.47" font-size="6.5" fill="#262626" text-anchor="middle" font-weight="normal" stroke="#262626" stroke-width="0.2">59</text>
<line x1="290.05" y1="622.07" x2="296.25" y2="622.07" stroke="#063006" stroke-width="1.5"/>
<text x="290.40" y="618.27" font-size="6.5" fill="#262626" text-anchor="start" font-weight="normal" stroke="#262626" stroke-width="0.2">4.1</text>
<line x1="31.60" y1="511.50" x2="31.60" y2="626.80" stroke="#262626" stroke-width="1.3"/>
<line x1="30.95" y1="626.80" x2="303.00" y2="626.80" stroke="#262626" stroke-width="1.3"/>
<line x1="28.60" y1="626.80" x2="31.60" y2="626.80" stroke="#262626" stroke-width="1.4"/>
<text x="25.90" y="629.10" font-size="6.4" fill="#555555" text-anchor="end" font-weight="normal" stroke="#555555" stroke-width="0.2">0</text>
<line x1="28.60" y1="603.74" x2="31.60" y2="603.74" stroke="#262626" stroke-width="1.4"/>
<text x="25.90" y="606.04" font-size="6.4" fill="#555555" text-anchor="end" font-weight="normal" stroke="#555555" stroke-width="0.2">20</text>
<line x1="28.60" y1="580.68" x2="31.60" y2="580.68" stroke="#262626" stroke-width="1.4"/>
<text x="25.90" y="582.98" font-size="6.4" fill="#555555" text-anchor="end" font-weight="normal" stroke="#555555" stroke-width="0.2">40</text>
<line x1="28.60" y1="557.62" x2="31.60" y2="557.62" stroke="#262626" stroke-width="1.4"/>
<text x="25.90" y="559.92" font-size="6.4" fill="#555555" text-anchor="end" font-weight="normal" stroke="#555555" stroke-width="0.2">60</text>
<line x1="28.60" y1="534.56" x2="31.60" y2="534.56" stroke="#262626" stroke-width="1.4"/>
<text x="25.90" y="536.86" font-size="6.4" fill="#555555" text-anchor="end" font-weight="normal" stroke="#555555" stroke-width="0.2">80</text>
<line x1="28.60" y1="511.50" x2="31.60" y2="511.50" stroke="#262626" stroke-width="1.4"/>
<text x="25.90" y="513.80" font-size="6.4" fill="#555555" text-anchor="end" font-weight="normal" stroke="#555555" stroke-width="0.2">100</text>
<line x1="44.10" y1="626.80" x2="44.10" y2="629.80" stroke="#262626" stroke-width="1.4"/>
<text x="42.70" y="638.30" font-size="6.4" fill="#555555" text-anchor="middle" font-weight="normal" stroke="#555555" stroke-width="0.2">1</text>
<line x1="68.65" y1="626.80" x2="68.65" y2="629.80" stroke="#262626" stroke-width="1.4"/>
<text x="67.25" y="638.30" font-size="6.4" fill="#555555" text-anchor="middle" font-weight="normal" stroke="#555555" stroke-width="0.2">2</text>
<line x1="93.20" y1="626.80" x2="93.20" y2="629.80" stroke="#262626" stroke-width="1.4"/>
<text x="91.80" y="638.30" font-size="6.4" fill="#555555" text-anchor="middle" font-weight="normal" stroke="#555555" stroke-width="0.2">3</text>
<line x1="117.75" y1="626.80" x2="117.75" y2="629.80" stroke="#262626" stroke-width="1.4"/>
<text x="116.35" y="638.30" font-size="6.4" fill="#555555" text-anchor="middle" font-weight="normal" stroke="#555555" stroke-width="0.2">4</text>
<line x1="142.30" y1="626.80" x2="142.30" y2="629.80" stroke="#262626" stroke-width="1.4"/>
<text x="140.90" y="638.30" font-size="6.4" fill="#555555" text-anchor="middle" font-weight="normal" stroke="#555555" stroke-width="0.2">6</text>
<line x1="166.85" y1="626.80" x2="166.85" y2="629.80" stroke="#262626" stroke-width="1.4"/>
<text x="165.45" y="638.30" font-size="6.4" fill="#555555" text-anchor="middle" font-weight="normal" stroke="#555555" stroke-width="0.2">8</text>
<line x1="191.40" y1="626.80" x2="191.40" y2="629.80" stroke="#262626" stroke-width="1.4"/>
<text x="190.00" y="638.30" font-size="6.4" fill="#555555" text-anchor="middle" font-weight="normal" stroke="#555555" stroke-width="0.2">10</text>
<line x1="215.95" y1="626.80" x2="215.95" y2="629.80" stroke="#262626" stroke-width="1.4"/>
<text x="214.55" y="638.30" font-size="6.4" fill="#555555" text-anchor="middle" font-weight="normal" stroke="#555555" stroke-width="0.2">12</text>
<line x1="240.50" y1="626.80" x2="240.50" y2="629.80" stroke="#262626" stroke-width="1.4"/>
<text x="239.10" y="638.30" font-size="6.4" fill="#555555" text-anchor="middle" font-weight="normal" stroke="#555555" stroke-width="0.2">16</text>
<line x1="265.05" y1="626.80" x2="265.05" y2="629.80" stroke="#262626" stroke-width="1.4"/>
<text x="263.65" y="638.30" font-size="6.4" fill="#555555" text-anchor="middle" font-weight="normal" stroke="#555555" stroke-width="0.2">20</text>
<line x1="289.60" y1="626.80" x2="289.60" y2="629.80" stroke="#262626" stroke-width="1.4"/>
<text x="288.20" y="638.30" font-size="6.4" fill="#555555" text-anchor="middle" font-weight="normal" stroke="#555555" stroke-width="0.2">24</text>
<text x="164.50" y="648.60" font-size="8.0" fill="#555555" text-anchor="middle" font-weight="normal" stroke="#555555" stroke-width="0.2"># CPU cores</text>
<text x="11.30" y="572.30" font-size="8.0" fill="#555555" text-anchor="middle" font-weight="normal" stroke="#555555" stroke-width="0.2" transform="rotate(-90 11.30 572.30)">Run time (s)</text>
<text x="156.70" y="506.80" font-size="9.5" fill="#262626" text-anchor="middle" font-weight="normal" stroke="#262626" stroke-width="0.2">Zarr read time vs number of CPU cores</text>
<text x="3.50" y="503.00" font-size="10.5" fill="#000" text-anchor="start" font-weight="bold">g</text>
<rect x="169.30" y="514.40" width="124.10" height="24.70" fill="#fff" stroke="#262626" stroke-width="1.0"/>
<rect x="173.30" y="518.00" width="20.00" height="7.00" fill="#efadb5"/>
<text x="196.80" y="524.45" font-size="8.2" fill="#262626" text-anchor="start" font-weight="normal" stroke="#262626" stroke-width="0.2">MATLAB interface of Zarr</text>
<rect x="173.30" y="528.20" width="20.00" height="7.00" fill="#c3f7b3"/>
<text x="196.80" y="534.65" font-size="8.2" fill="#262626" text-anchor="start" font-weight="normal" stroke="#262626" stroke-width="0.2">Cpp-Zarr</text>
<circle cx="39.50" cy="520.70" r="0.75" fill="#3a0610"/>
<circle cx="48.00" cy="562.40" r="0.75" fill="#063006"/>
<circle cx="96.50" cy="597.00" r="0.75" fill="#063006"/>
<rect x="385.10" y="526.94" width="7.10" height="100.06" fill="#efadb5"/>
<rect x="392.20" y="550.85" width="7.10" height="76.15" fill="#c3f7b3"/>
<rect x="409.65" y="547.31" width="7.10" height="79.69" fill="#efadb5"/>
<rect x="416.75" y="582.73" width="7.10" height="44.27" fill="#c3f7b3"/>
<rect x="434.20" y="554.39" width="7.10" height="72.61" fill="#efadb5"/>
<rect x="441.30" y="595.12" width="7.10" height="31.88" fill="#c3f7b3"/>
<rect x="458.75" y="556.16" width="7.10" height="70.84" fill="#efadb5"/>
<rect x="465.85" y="602.21" width="7.10" height="24.79" fill="#c3f7b3"/>
<rect x="483.30" y="560.59" width="7.10" height="66.41" fill="#efadb5"/>
<rect x="490.40" y="608.40" width="7.10" height="18.60" fill="#c3f7b3"/>
<rect x="507.85" y="561.47" width="7.10" height="65.53" fill="#efadb5"/>
<rect x="514.95" y="610.18" width="7.10" height="16.82" fill="#c3f7b3"/>
<rect x="532.40" y="561.47" width="7.10" height="65.53" fill="#efadb5"/>
<rect x="539.50" y="612.83" width="7.10" height="14.17" fill="#c3f7b3"/>
<rect x="556.95" y="561.47" width="7.10" height="65.53" fill="#efadb5"/>
<rect x="564.05" y="613.72" width="7.10" height="13.28" fill="#c3f7b3"/>
<rect x="581.50" y="560.59" width="7.10" height="66.41" fill="#efadb5"/>
<rect x="588.60" y="615.49" width="7.10" height="11.51" fill="#c3f7b3"/>
<rect x="606.05" y="561.47" width="7.10" height="65.53" fill="#efadb5"/>
<rect x="613.15" y="615.49" width="7.10" height="11.51" fill="#c3f7b3"/>
<rect x="630.60" y="560.59" width="7.10" height="66.41" fill="#efadb5"/>
<rect x="637.70" y="616.37" width="7.10" height="10.63" fill="#c3f7b3"/>
<line x1="385.55" y1="526.94" x2="391.75" y2="526.94" stroke="#3a0610" stroke-width="1.5"/>
<text x="388.65" y="522.64" font-size="6.5" fill="#262626" text-anchor="middle" font-weight="normal" stroke="#262626" stroke-width="0.2">113</text>
<line x1="392.65" y1="550.85" x2="398.85" y2="550.85" stroke="#063006" stroke-width="1.5"/>
<text x="393.00" y="547.00" font-size="6.5" fill="#262626" text-anchor="start" font-weight="normal" stroke="#262626" stroke-width="0.2">86</text>
<line x1="410.10" y1="547.31" x2="416.30" y2="547.31" stroke="#3a0610" stroke-width="1.5"/>
<text x="413.20" y="543.01" font-size="6.5" fill="#262626" text-anchor="middle" font-weight="normal" stroke="#262626" stroke-width="0.2">90</text>
<line x1="417.20" y1="582.73" x2="423.40" y2="582.73" stroke="#063006" stroke-width="1.5"/>
<text x="417.55" y="579.93" font-size="6.5" fill="#262626" text-anchor="start" font-weight="normal" stroke="#262626" stroke-width="0.2">50</text>
<line x1="434.65" y1="554.39" x2="440.85" y2="554.39" stroke="#3a0610" stroke-width="1.5"/>
<text x="437.75" y="550.09" font-size="6.5" fill="#262626" text-anchor="middle" font-weight="normal" stroke="#262626" stroke-width="0.2">82</text>
<line x1="441.75" y1="595.12" x2="447.95" y2="595.12" stroke="#063006" stroke-width="1.5"/>
<text x="442.10" y="592.32" font-size="6.5" fill="#262626" text-anchor="start" font-weight="normal" stroke="#262626" stroke-width="0.2">36</text>
<line x1="459.20" y1="556.16" x2="465.40" y2="556.16" stroke="#3a0610" stroke-width="1.5"/>
<text x="462.30" y="551.86" font-size="6.5" fill="#262626" text-anchor="middle" font-weight="normal" stroke="#262626" stroke-width="0.2">80</text>
<line x1="466.30" y1="602.21" x2="472.50" y2="602.21" stroke="#063006" stroke-width="1.5"/>
<text x="466.65" y="599.41" font-size="6.5" fill="#262626" text-anchor="start" font-weight="normal" stroke="#262626" stroke-width="0.2">28</text>
<line x1="483.75" y1="560.59" x2="489.95" y2="560.59" stroke="#3a0610" stroke-width="1.5"/>
<text x="486.85" y="556.29" font-size="6.5" fill="#262626" text-anchor="middle" font-weight="normal" stroke="#262626" stroke-width="0.2">75</text>
<line x1="490.85" y1="608.40" x2="497.05" y2="608.40" stroke="#063006" stroke-width="1.5"/>
<text x="491.20" y="605.60" font-size="6.5" fill="#262626" text-anchor="start" font-weight="normal" stroke="#262626" stroke-width="0.2">21</text>
<line x1="508.30" y1="561.47" x2="514.50" y2="561.47" stroke="#3a0610" stroke-width="1.5"/>
<text x="511.40" y="557.17" font-size="6.5" fill="#262626" text-anchor="middle" font-weight="normal" stroke="#262626" stroke-width="0.2">74</text>
<line x1="515.40" y1="610.18" x2="521.60" y2="610.18" stroke="#063006" stroke-width="1.5"/>
<text x="515.75" y="607.38" font-size="6.5" fill="#262626" text-anchor="start" font-weight="normal" stroke="#262626" stroke-width="0.2">19</text>
<line x1="532.85" y1="561.47" x2="539.05" y2="561.47" stroke="#3a0610" stroke-width="1.5"/>
<text x="535.95" y="557.17" font-size="6.5" fill="#262626" text-anchor="middle" font-weight="normal" stroke="#262626" stroke-width="0.2">74</text>
<line x1="539.95" y1="612.83" x2="546.15" y2="612.83" stroke="#063006" stroke-width="1.5"/>
<text x="540.30" y="610.03" font-size="6.5" fill="#262626" text-anchor="start" font-weight="normal" stroke="#262626" stroke-width="0.2">16</text>
<line x1="557.40" y1="561.47" x2="563.60" y2="561.47" stroke="#3a0610" stroke-width="1.5"/>
<text x="560.50" y="557.17" font-size="6.5" fill="#262626" text-anchor="middle" font-weight="normal" stroke="#262626" stroke-width="0.2">74</text>
<line x1="564.50" y1="613.72" x2="570.70" y2="613.72" stroke="#063006" stroke-width="1.5"/>
<text x="564.85" y="610.92" font-size="6.5" fill="#262626" text-anchor="start" font-weight="normal" stroke="#262626" stroke-width="0.2">15</text>
<line x1="581.95" y1="560.59" x2="588.15" y2="560.59" stroke="#3a0610" stroke-width="1.5"/>
<text x="585.05" y="556.29" font-size="6.5" fill="#262626" text-anchor="middle" font-weight="normal" stroke="#262626" stroke-width="0.2">75</text>
<line x1="589.05" y1="615.49" x2="595.25" y2="615.49" stroke="#063006" stroke-width="1.5"/>
<text x="589.40" y="612.69" font-size="6.5" fill="#262626" text-anchor="start" font-weight="normal" stroke="#262626" stroke-width="0.2">13</text>
<line x1="606.50" y1="561.47" x2="612.70" y2="561.47" stroke="#3a0610" stroke-width="1.5"/>
<text x="609.60" y="557.17" font-size="6.5" fill="#262626" text-anchor="middle" font-weight="normal" stroke="#262626" stroke-width="0.2">74</text>
<line x1="613.60" y1="615.49" x2="619.80" y2="615.49" stroke="#063006" stroke-width="1.5"/>
<text x="613.95" y="612.69" font-size="6.5" fill="#262626" text-anchor="start" font-weight="normal" stroke="#262626" stroke-width="0.2">13</text>
<line x1="631.05" y1="560.59" x2="637.25" y2="560.59" stroke="#3a0610" stroke-width="1.5"/>
<text x="634.15" y="556.29" font-size="6.5" fill="#262626" text-anchor="middle" font-weight="normal" stroke="#262626" stroke-width="0.2">75</text>
<line x1="638.15" y1="616.37" x2="644.35" y2="616.37" stroke="#063006" stroke-width="1.5"/>
<text x="638.50" y="613.57" font-size="6.5" fill="#262626" text-anchor="start" font-weight="normal" stroke="#262626" stroke-width="0.2">12</text>
<line x1="380.00" y1="512.00" x2="380.00" y2="627.00" stroke="#262626" stroke-width="1.3"/>
<line x1="379.35" y1="627.00" x2="649.90" y2="627.00" stroke="#262626" stroke-width="1.3"/>
<line x1="377.00" y1="627.00" x2="380.00" y2="627.00" stroke="#262626" stroke-width="1.4"/>
<text x="374.10" y="629.30" font-size="6.4" fill="#555555" text-anchor="end" font-weight="normal" stroke="#555555" stroke-width="0.2">0</text>
<line x1="377.00" y1="609.29" x2="380.00" y2="609.29" stroke="#262626" stroke-width="1.4"/>
<text x="374.10" y="611.59" font-size="6.4" fill="#555555" text-anchor="end" font-weight="normal" stroke="#555555" stroke-width="0.2">20</text>
<line x1="377.00" y1="591.58" x2="380.00" y2="591.58" stroke="#262626" stroke-width="1.4"/>
<text x="374.10" y="593.88" font-size="6.4" fill="#555555" text-anchor="end" font-weight="normal" stroke="#555555" stroke-width="0.2">40</text>
<line x1="377.00" y1="573.87" x2="380.00" y2="573.87" stroke="#262626" stroke-width="1.4"/>
<text x="374.10" y="576.17" font-size="6.4" fill="#555555" text-anchor="end" font-weight="normal" stroke="#555555" stroke-width="0.2">60</text>
<line x1="377.00" y1="556.16" x2="380.00" y2="556.16" stroke="#262626" stroke-width="1.4"/>
<text x="374.10" y="558.46" font-size="6.4" fill="#555555" text-anchor="end" font-weight="normal" stroke="#555555" stroke-width="0.2">80</text>
<line x1="377.00" y1="538.45" x2="380.00" y2="538.45" stroke="#262626" stroke-width="1.4"/>
<text x="374.10" y="540.75" font-size="6.4" fill="#555555" text-anchor="end" font-weight="normal" stroke="#555555" stroke-width="0.2">100</text>
<line x1="377.00" y1="520.74" x2="380.00" y2="520.74" stroke="#262626" stroke-width="1.4"/>
<text x="374.10" y="523.04" font-size="6.4" fill="#555555" text-anchor="end" font-weight="normal" stroke="#555555" stroke-width="0.2">120</text>
<line x1="392.20" y1="627.00" x2="392.20" y2="630.00" stroke="#262626" stroke-width="1.4"/>
<text x="390.80" y="638.60" font-size="6.4" fill="#555555" text-anchor="middle" font-weight="normal" stroke="#555555" stroke-width="0.2">1</text>
<line x1="416.75" y1="627.00" x2="416.75" y2="630.00" stroke="#262626" stroke-width="1.4"/>
<text x="415.35" y="638.60" font-size="6.4" fill="#555555" text-anchor="middle" font-weight="normal" stroke="#555555" stroke-width="0.2">2</text>
<line x1="441.30" y1="627.00" x2="441.30" y2="630.00" stroke="#262626" stroke-width="1.4"/>
<text x="439.90" y="638.60" font-size="6.4" fill="#555555" text-anchor="middle" font-weight="normal" stroke="#555555" stroke-width="0.2">3</text>
<line x1="465.85" y1="627.00" x2="465.85" y2="630.00" stroke="#262626" stroke-width="1.4"/>
<text x="464.45" y="638.60" font-size="6.4" fill="#555555" text-anchor="middle" font-weight="normal" stroke="#555555" stroke-width="0.2">4</text>
<line x1="490.40" y1="627.00" x2="490.40" y2="630.00" stroke="#262626" stroke-width="1.4"/>
<text x="489.00" y="638.60" font-size="6.4" fill="#555555" text-anchor="middle" font-weight="normal" stroke="#555555" stroke-width="0.2">6</text>
<line x1="514.95" y1="627.00" x2="514.95" y2="630.00" stroke="#262626" stroke-width="1.4"/>
<text x="513.55" y="638.60" font-size="6.4" fill="#555555" text-anchor="middle" font-weight="normal" stroke="#555555" stroke-width="0.2">8</text>
<line x1="539.50" y1="627.00" x2="539.50" y2="630.00" stroke="#262626" stroke-width="1.4"/>
<text x="538.10" y="638.60" font-size="6.4" fill="#555555" text-anchor="middle" font-weight="normal" stroke="#555555" stroke-width="0.2">10</text>
<line x1="564.05" y1="627.00" x2="564.05" y2="630.00" stroke="#262626" stroke-width="1.4"/>
<text x="562.65" y="638.60" font-size="6.4" fill="#555555" text-anchor="middle" font-weight="normal" stroke="#555555" stroke-width="0.2">12</text>
<line x1="588.60" y1="627.00" x2="588.60" y2="630.00" stroke="#262626" stroke-width="1.4"/>
<text x="587.20" y="638.60" font-size="6.4" fill="#555555" text-anchor="middle" font-weight="normal" stroke="#555555" stroke-width="0.2">16</text>
<line x1="613.15" y1="627.00" x2="613.15" y2="630.00" stroke="#262626" stroke-width="1.4"/>
<text x="611.75" y="638.60" font-size="6.4" fill="#555555" text-anchor="middle" font-weight="normal" stroke="#555555" stroke-width="0.2">20</text>
<line x1="637.70" y1="627.00" x2="637.70" y2="630.00" stroke="#262626" stroke-width="1.4"/>
<text x="636.30" y="638.60" font-size="6.4" fill="#555555" text-anchor="middle" font-weight="normal" stroke="#555555" stroke-width="0.2">24</text>
<text x="512.70" y="648.60" font-size="8.0" fill="#555555" text-anchor="middle" font-weight="normal" stroke="#555555" stroke-width="0.2"># CPU cores</text>
<text x="359.50" y="572.30" font-size="8.0" fill="#555555" text-anchor="middle" font-weight="normal" stroke="#555555" stroke-width="0.2" transform="rotate(-90 359.50 572.30)">Run time (s)</text>
<text x="504.20" y="506.80" font-size="9.5" fill="#262626" text-anchor="middle" font-weight="normal" stroke="#262626" stroke-width="0.2">Zarr write time vs number of CPU cores</text>
<text x="349.50" y="505.00" font-size="10.5" fill="#000" text-anchor="start" font-weight="bold">h</text>
<rect x="516.90" y="516.20" width="124.90" height="24.10" fill="#fff" stroke="#262626" stroke-width="1.0"/>
<rect x="520.90" y="519.80" width="20.00" height="7.00" fill="#efadb5"/>
<text x="544.40" y="526.25" font-size="8.2" fill="#262626" text-anchor="start" font-weight="normal" stroke="#262626" stroke-width="0.2">MATLAB interface of Zarr</text>
<rect x="520.90" y="530.00" width="20.00" height="7.00" fill="#c3f7b3"/>
<text x="544.40" y="536.45" font-size="8.2" fill="#262626" text-anchor="start" font-weight="normal" stroke="#262626" stroke-width="0.2">Cpp-Zarr</text>
<rect x="268.80" y="743.41" width="7.90" height="53.19" fill="#efadb5"/>
<rect x="276.70" y="743.41" width="7.90" height="53.19" fill="#c3f7b3"/>
<rect x="296.38" y="751.39" width="7.90" height="45.21" fill="#efadb5"/>
<rect x="304.28" y="754.92" width="7.90" height="41.68" fill="#c3f7b3"/>
<rect x="323.96" y="750.78" width="7.90" height="45.82" fill="#efadb5"/>
<rect x="331.86" y="754.92" width="7.90" height="41.68" fill="#c3f7b3"/>
<rect x="351.54" y="751.39" width="7.90" height="45.21" fill="#efadb5"/>
<rect x="359.44" y="752.03" width="7.90" height="44.57" fill="#c3f7b3"/>
<rect x="379.12" y="751.39" width="7.90" height="45.21" fill="#efadb5"/>
<rect x="387.02" y="747.09" width="7.90" height="49.51" fill="#c3f7b3"/>
<rect x="406.70" y="751.39" width="7.90" height="45.21" fill="#efadb5"/>
<rect x="414.60" y="732.21" width="7.90" height="64.39" fill="#c3f7b3"/>
<rect x="434.28" y="751.39" width="7.90" height="45.21" fill="#efadb5"/>
<rect x="442.18" y="697.82" width="7.90" height="98.78" fill="#c3f7b3"/>
<line x1="269.25" y1="743.41" x2="276.25" y2="743.41" stroke="#3a0610" stroke-width="1.5"/>
<text x="271.55" y="740.71" font-size="6.5" fill="#262626" text-anchor="middle" font-weight="normal" stroke="#262626" stroke-width="0.2">40</text>
<line x1="277.15" y1="743.41" x2="284.15" y2="743.41" stroke="#063006" stroke-width="1.5"/>
<text x="281.25" y="740.71" font-size="6.5" fill="#262626" text-anchor="middle" font-weight="normal" stroke="#262626" stroke-width="0.2">40</text>
<line x1="296.83" y1="751.39" x2="303.83" y2="751.39" stroke="#3a0610" stroke-width="1.5"/>
<text x="299.13" y="748.69" font-size="6.5" fill="#262626" text-anchor="middle" font-weight="normal" stroke="#262626" stroke-width="0.2">23</text>
<line x1="304.73" y1="754.92" x2="311.73" y2="754.92" stroke="#063006" stroke-width="1.5"/>
<text x="308.83" y="752.22" font-size="6.5" fill="#262626" text-anchor="middle" font-weight="normal" stroke="#262626" stroke-width="0.2">18</text>
<line x1="324.41" y1="750.78" x2="331.41" y2="750.78" stroke="#3a0610" stroke-width="1.5"/>
<text x="326.71" y="748.08" font-size="6.5" fill="#262626" text-anchor="middle" font-weight="normal" stroke="#262626" stroke-width="0.2">24</text>
<line x1="332.31" y1="754.92" x2="339.31" y2="754.92" stroke="#063006" stroke-width="1.5"/>
<text x="336.41" y="752.22" font-size="6.5" fill="#262626" text-anchor="middle" font-weight="normal" stroke="#262626" stroke-width="0.2">18</text>
<line x1="351.99" y1="751.39" x2="358.99" y2="751.39" stroke="#3a0610" stroke-width="1.5"/>
<text x="354.29" y="748.69" font-size="6.5" fill="#262626" text-anchor="middle" font-weight="normal" stroke="#262626" stroke-width="0.2">23</text>
<line x1="359.89" y1="752.03" x2="366.89" y2="752.03" stroke="#063006" stroke-width="1.5"/>
<text x="363.99" y="749.33" font-size="6.5" fill="#262626" text-anchor="middle" font-weight="normal" stroke="#262626" stroke-width="0.2">22</text>
<line x1="379.57" y1="751.39" x2="386.57" y2="751.39" stroke="#3a0610" stroke-width="1.5"/>
<text x="381.87" y="748.69" font-size="6.5" fill="#262626" text-anchor="middle" font-weight="normal" stroke="#262626" stroke-width="0.2">23</text>
<line x1="387.47" y1="747.09" x2="394.47" y2="747.09" stroke="#063006" stroke-width="1.5"/>
<text x="391.57" y="744.39" font-size="6.5" fill="#262626" text-anchor="middle" font-weight="normal" stroke="#262626" stroke-width="0.2">31</text>
<line x1="407.15" y1="751.39" x2="414.15" y2="751.39" stroke="#3a0610" stroke-width="1.5"/>
<text x="409.45" y="748.69" font-size="6.5" fill="#262626" text-anchor="middle" font-weight="normal" stroke="#262626" stroke-width="0.2">23</text>
<line x1="415.05" y1="732.21" x2="422.05" y2="732.21" stroke="#063006" stroke-width="1.5"/>
<text x="419.15" y="729.51" font-size="6.5" fill="#262626" text-anchor="middle" font-weight="normal" stroke="#262626" stroke-width="0.2">87</text>
<line x1="434.73" y1="751.39" x2="441.73" y2="751.39" stroke="#3a0610" stroke-width="1.5"/>
<text x="437.03" y="748.69" font-size="6.5" fill="#262626" text-anchor="middle" font-weight="normal" stroke="#262626" stroke-width="0.2">23</text>
<line x1="442.63" y1="697.82" x2="449.63" y2="697.82" stroke="#063006" stroke-width="1.5"/>
<text x="446.73" y="695.12" font-size="6.5" fill="#262626" text-anchor="middle" font-weight="normal" stroke="#262626" stroke-width="0.2">945</text>
<line x1="263.00" y1="680.70" x2="263.00" y2="796.60" stroke="#262626" stroke-width="1.3"/>
<line x1="262.35" y1="796.60" x2="457.00" y2="796.60" stroke="#262626" stroke-width="1.3"/>
<line x1="259.70" y1="697.00" x2="263.00" y2="697.00" stroke="#262626" stroke-width="1.4"/>
<text x="254.10" y="699.30" font-size="6.4" fill="#555555" text-anchor="end" font-weight="normal" stroke="#555555" stroke-width="0.2">1000</text>
<line x1="259.70" y1="730.20" x2="263.00" y2="730.20" stroke="#262626" stroke-width="1.4"/>
<text x="254.10" y="732.50" font-size="6.4" fill="#555555" text-anchor="end" font-weight="normal" stroke="#555555" stroke-width="0.2">100</text>
<line x1="259.70" y1="763.40" x2="263.00" y2="763.40" stroke="#262626" stroke-width="1.4"/>
<text x="254.10" y="765.70" font-size="6.4" fill="#555555" text-anchor="end" font-weight="normal" stroke="#555555" stroke-width="0.2">10</text>
<line x1="259.70" y1="796.60" x2="263.00" y2="796.60" stroke="#262626" stroke-width="1.4"/>
<text x="254.10" y="798.90" font-size="6.4" fill="#555555" text-anchor="end" font-weight="normal" stroke="#555555" stroke-width="0.2">1</text>
<line x1="276.70" y1="796.60" x2="276.70" y2="799.90" stroke="#262626" stroke-width="1.4"/>
<text x="275.70" y="808.00" font-size="6.4" fill="#555555" text-anchor="middle" font-weight="normal" stroke="#555555" stroke-width="0.2">0</text>
<line x1="304.28" y1="796.60" x2="304.28" y2="799.90" stroke="#262626" stroke-width="1.4"/>
<text x="303.28" y="808.00" font-size="6.4" fill="#555555" text-anchor="middle" font-weight="normal" stroke="#555555" stroke-width="0.2">1</text>
<line x1="331.86" y1="796.60" x2="331.86" y2="799.90" stroke="#262626" stroke-width="1.4"/>
<text x="330.86" y="808.00" font-size="6.4" fill="#555555" text-anchor="middle" font-weight="normal" stroke="#555555" stroke-width="0.2">2</text>
<line x1="359.44" y1="796.60" x2="359.44" y2="799.90" stroke="#262626" stroke-width="1.4"/>
<text x="358.44" y="808.00" font-size="6.4" fill="#555555" text-anchor="middle" font-weight="normal" stroke="#555555" stroke-width="0.2">3</text>
<line x1="387.02" y1="796.60" x2="387.02" y2="799.90" stroke="#262626" stroke-width="1.4"/>
<text x="386.02" y="808.00" font-size="6.4" fill="#555555" text-anchor="middle" font-weight="normal" stroke="#555555" stroke-width="0.2">5</text>
<line x1="414.60" y1="796.60" x2="414.60" y2="799.90" stroke="#262626" stroke-width="1.4"/>
<text x="413.60" y="808.00" font-size="6.4" fill="#555555" text-anchor="middle" font-weight="normal" stroke="#555555" stroke-width="0.2">7</text>
<line x1="442.18" y1="796.60" x2="442.18" y2="799.90" stroke="#262626" stroke-width="1.4"/>
<text x="441.18" y="808.00" font-size="6.4" fill="#555555" text-anchor="middle" font-weight="normal" stroke="#555555" stroke-width="0.2">9</text>
<text x="354.95" y="817.60" font-size="8.0" fill="#555555" text-anchor="middle" font-weight="normal" stroke="#555555" stroke-width="0.2">Compression level</text>
<text x="238.00" y="741.50" font-size="8.0" fill="#555555" text-anchor="middle" font-weight="normal" stroke="#555555" stroke-width="0.2" transform="rotate(-90 238.00 741.50)">Run time (s)</text>
<text x="349.60" y="675.90" font-size="9.5" fill="#262626" text-anchor="middle" font-weight="normal" stroke="#262626" stroke-width="0.2">Write time vs compression level</text>
<text x="227.50" y="668.00" font-size="10.5" fill="#000" text-anchor="start" font-weight="bold">j</text>
<rect x="271.40" y="685.60" width="46.10" height="25.20" fill="#fff" stroke="#262626" stroke-width="1.0"/>
<rect x="275.40" y="689.40" width="20.00" height="6.70" fill="#efadb5"/>
<text x="298.60" y="695.70" font-size="8.2" fill="#262626" text-anchor="start" font-weight="normal" stroke="#262626" stroke-width="0.2">lz4</text>
<rect x="275.40" y="700.30" width="20.00" height="6.70" fill="#c3f7b3"/>
<text x="298.60" y="706.60" font-size="8.2" fill="#262626" text-anchor="start" font-weight="normal" stroke="#262626" stroke-width="0.2">zstd</text>
<rect x="497.60" y="734.53" width="7.70" height="61.77" fill="#efadb5"/>
<rect x="505.30" y="737.14" width="7.70" height="59.16" fill="#c3f7b3"/>
<rect x="525.05" y="738.88" width="7.70" height="57.42" fill="#efadb5"/>
<rect x="532.75" y="735.40" width="7.70" height="60.90" fill="#c3f7b3"/>
<rect x="552.50" y="738.88" width="7.70" height="57.42" fill="#efadb5"/>
<rect x="560.20" y="735.40" width="7.70" height="60.90" fill="#c3f7b3"/>
<rect x="579.95" y="738.88" width="7.70" height="57.42" fill="#efadb5"/>
<rect x="587.65" y="733.66" width="7.70" height="62.64" fill="#c3f7b3"/>
<rect x="607.40" y="739.46" width="7.70" height="56.84" fill="#efadb5"/>
<rect x="615.10" y="734.24" width="7.70" height="62.06" fill="#c3f7b3"/>
<rect x="634.85" y="744.10" width="7.70" height="52.20" fill="#efadb5"/>
<rect x="642.55" y="741.20" width="7.70" height="55.10" fill="#c3f7b3"/>
<rect x="662.30" y="743.52" width="7.70" height="52.78" fill="#efadb5"/>
<rect x="670.00" y="727.86" width="7.70" height="68.44" fill="#c3f7b3"/>
<line x1="498.05" y1="734.53" x2="504.85" y2="734.53" stroke="#3a0610" stroke-width="1.8"/>
<text x="500.55" y="729.70" font-size="6.5" fill="#262626" text-anchor="middle" font-weight="normal" stroke="#262626" stroke-width="0.2">11</text>
<line x1="505.75" y1="737.14" x2="512.55" y2="737.14" stroke="#063006" stroke-width="2.4"/>
<text x="509.75" y="734.44" font-size="6.5" fill="#262626" text-anchor="middle" font-weight="normal" stroke="#262626" stroke-width="0.2">10</text>
<line x1="525.50" y1="738.88" x2="532.30" y2="738.88" stroke="#3a0610" stroke-width="1.5"/>
<text x="528.00" y="736.18" font-size="6.5" fill="#262626" text-anchor="middle" font-weight="normal" stroke="#262626" stroke-width="0.2">9.9</text>
<line x1="533.20" y1="735.40" x2="540.00" y2="735.40" stroke="#063006" stroke-width="1.5"/>
<text x="537.20" y="732.70" font-size="6.5" fill="#262626" text-anchor="middle" font-weight="normal" stroke="#262626" stroke-width="0.2">10</text>
<line x1="552.95" y1="738.88" x2="559.75" y2="738.88" stroke="#3a0610" stroke-width="1.5"/>
<text x="555.45" y="736.18" font-size="6.5" fill="#262626" text-anchor="middle" font-weight="normal" stroke="#262626" stroke-width="0.2">9.9</text>
<line x1="560.65" y1="735.40" x2="567.45" y2="735.40" stroke="#063006" stroke-width="1.5"/>
<text x="564.65" y="732.70" font-size="6.5" fill="#262626" text-anchor="middle" font-weight="normal" stroke="#262626" stroke-width="0.2">10</text>
<line x1="580.40" y1="738.88" x2="587.20" y2="738.88" stroke="#3a0610" stroke-width="1.5"/>
<text x="582.90" y="736.18" font-size="6.5" fill="#262626" text-anchor="middle" font-weight="normal" stroke="#262626" stroke-width="0.2">9.9</text>
<line x1="588.10" y1="733.66" x2="594.90" y2="733.66" stroke="#063006" stroke-width="2.0"/>
<text x="592.10" y="730.96" font-size="6.5" fill="#262626" text-anchor="middle" font-weight="normal" stroke="#262626" stroke-width="0.2">11</text>
<line x1="607.85" y1="739.46" x2="614.65" y2="739.46" stroke="#3a0610" stroke-width="1.5"/>
<text x="610.35" y="736.76" font-size="6.5" fill="#262626" text-anchor="middle" font-weight="normal" stroke="#262626" stroke-width="0.2">9.8</text>
<line x1="615.55" y1="734.24" x2="622.35" y2="734.24" stroke="#063006" stroke-width="1.5"/>
<text x="619.55" y="731.54" font-size="6.5" fill="#262626" text-anchor="middle" font-weight="normal" stroke="#262626" stroke-width="0.2">11</text>
<line x1="635.30" y1="744.10" x2="642.10" y2="744.10" stroke="#3a0610" stroke-width="2.0"/>
<text x="637.80" y="739.70" font-size="6.5" fill="#262626" text-anchor="middle" font-weight="normal" stroke="#262626" stroke-width="0.2">9.2</text>
<line x1="643.00" y1="741.20" x2="649.80" y2="741.20" stroke="#063006" stroke-width="2.2"/>
<text x="647.90" y="738.20" font-size="6.5" fill="#262626" text-anchor="middle" font-weight="normal" stroke="#262626" stroke-width="0.2">9.5</text>
<line x1="662.75" y1="743.52" x2="669.55" y2="743.52" stroke="#3a0610" stroke-width="2.2"/>
<text x="665.25" y="740.82" font-size="6.5" fill="#262626" text-anchor="middle" font-weight="normal" stroke="#262626" stroke-width="0.2">9.1</text>
<line x1="670.45" y1="727.86" x2="677.25" y2="727.86" stroke="#063006" stroke-width="1.5"/>
<text x="674.45" y="725.16" font-size="6.5" fill="#262626" text-anchor="middle" font-weight="normal" stroke="#262626" stroke-width="0.2">12</text>
<line x1="491.50" y1="680.30" x2="491.50" y2="796.30" stroke="#262626" stroke-width="1.3"/>
<line x1="490.85" y1="796.30" x2="685.00" y2="796.30" stroke="#262626" stroke-width="1.3"/>
<line x1="488.20" y1="796.30" x2="491.50" y2="796.30" stroke="#262626" stroke-width="1.4"/>
<text x="485.30" y="798.60" font-size="6.4" fill="#555555" text-anchor="end" font-weight="normal" stroke="#555555" stroke-width="0.2">0</text>
<line x1="488.20" y1="767.30" x2="491.50" y2="767.30" stroke="#262626" stroke-width="1.4"/>
<text x="485.30" y="769.60" font-size="6.4" fill="#555555" text-anchor="end" font-weight="normal" stroke="#555555" stroke-width="0.2">5</text>
<line x1="488.20" y1="738.30" x2="491.50" y2="738.30" stroke="#262626" stroke-width="1.4"/>
<text x="485.30" y="740.60" font-size="6.4" fill="#555555" text-anchor="end" font-weight="normal" stroke="#555555" stroke-width="0.2">10</text>
<line x1="488.20" y1="709.30" x2="491.50" y2="709.30" stroke="#262626" stroke-width="1.4"/>
<text x="485.30" y="711.60" font-size="6.4" fill="#555555" text-anchor="end" font-weight="normal" stroke="#555555" stroke-width="0.2">15</text>
<line x1="488.20" y1="680.30" x2="491.50" y2="680.30" stroke="#262626" stroke-width="1.4"/>
<text x="485.30" y="682.60" font-size="6.4" fill="#555555" text-anchor="end" font-weight="normal" stroke="#555555" stroke-width="0.2">20</text>
<line x1="505.30" y1="796.30" x2="505.30" y2="799.60" stroke="#262626" stroke-width="1.4"/>
<text x="504.30" y="807.70" font-size="6.4" fill="#555555" text-anchor="middle" font-weight="normal" stroke="#555555" stroke-width="0.2">0</text>
<line x1="532.75" y1="796.30" x2="532.75" y2="799.60" stroke="#262626" stroke-width="1.4"/>
<text x="531.75" y="807.70" font-size="6.4" fill="#555555" text-anchor="middle" font-weight="normal" stroke="#555555" stroke-width="0.2">1</text>
<line x1="560.20" y1="796.30" x2="560.20" y2="799.60" stroke="#262626" stroke-width="1.4"/>
<text x="559.20" y="807.70" font-size="6.4" fill="#555555" text-anchor="middle" font-weight="normal" stroke="#555555" stroke-width="0.2">2</text>
<line x1="587.65" y1="796.30" x2="587.65" y2="799.60" stroke="#262626" stroke-width="1.4"/>
<text x="586.65" y="807.70" font-size="6.4" fill="#555555" text-anchor="middle" font-weight="normal" stroke="#555555" stroke-width="0.2">3</text>
<line x1="615.10" y1="796.30" x2="615.10" y2="799.60" stroke="#262626" stroke-width="1.4"/>
<text x="614.10" y="807.70" font-size="6.4" fill="#555555" text-anchor="middle" font-weight="normal" stroke="#555555" stroke-width="0.2">5</text>
<line x1="642.55" y1="796.30" x2="642.55" y2="799.60" stroke="#262626" stroke-width="1.4"/>
<text x="641.55" y="807.70" font-size="6.4" fill="#555555" text-anchor="middle" font-weight="normal" stroke="#555555" stroke-width="0.2">7</text>
<line x1="670.00" y1="796.30" x2="670.00" y2="799.60" stroke="#262626" stroke-width="1.4"/>
<text x="669.00" y="807.70" font-size="6.4" fill="#555555" text-anchor="middle" font-weight="normal" stroke="#555555" stroke-width="0.2">9</text>
<text x="584.30" y="816.90" font-size="8.0" fill="#555555" text-anchor="middle" font-weight="normal" stroke="#555555" stroke-width="0.2">Compression level</text>
<text x="474.60" y="741.50" font-size="8.0" fill="#555555" text-anchor="middle" font-weight="normal" stroke="#555555" stroke-width="0.2" transform="rotate(-90 474.60 741.50)">Run time (s)</text>
<text x="579.25" y="675.90" font-size="9.5" fill="#262626" text-anchor="middle" font-weight="normal" stroke="#262626" stroke-width="0.2">Read time vs compression level</text>
<text x="463.50" y="668.00" font-size="10.5" fill="#000" text-anchor="start" font-weight="bold">k</text>
<rect x="500.50" y="683.80" width="46.50" height="25.40" fill="#fff" stroke="#262626" stroke-width="1.0"/>
<rect x="504.50" y="687.60" width="20.00" height="6.70" fill="#efadb5"/>
<text x="527.70" y="693.90" font-size="8.2" fill="#262626" text-anchor="start" font-weight="normal" stroke="#262626" stroke-width="0.2">lz4</text>
<rect x="504.50" y="698.50" width="20.00" height="6.70" fill="#c3f7b3"/>
<text x="527.70" y="704.80" font-size="8.2" fill="#262626" text-anchor="start" font-weight="normal" stroke="#262626" stroke-width="0.2">zstd</text>
<g stroke="#3a0610" stroke-width="0.9" fill="none"><path d="M499.5 731.6H504.2M501.85 731.6V736.6M499.5 736.6H504.2"/></g>
<g stroke="#3a0610" stroke-width="0.9" fill="none"><path d="M636.6 741.6H641.4M639.0 741.6V746.2M636.6 746.2H641.4"/></g>
<g stroke="#063006" stroke-width="0.9" fill="none"><path d="M644.4 740.0H649.0M646.7 740.0V743.4M644.4 743.4H649.0"/></g>
<polyline points="22.00,690.22 54.00,745.28 86.00,745.28 118.00,745.28 150.00,745.47 182.00,745.47 214.00,745.47" fill="none" stroke="#d43c3c" stroke-width="1.7"/>
<line x1="18.20" y1="690.22" x2="25.80" y2="690.22" stroke="#cc2222" stroke-width="1.2"/><line x1="19.31" y1="687.54" x2="24.69" y2="692.91" stroke="#cc2222" stroke-width="1.2"/><line x1="22.00" y1="686.42" x2="22.00" y2="694.02" stroke="#cc2222" stroke-width="1.2"/><line x1="24.69" y1="687.54" x2="19.31" y2="692.91" stroke="#cc2222" stroke-width="1.2"/>
<line x1="50.20" y1="745.28" x2="57.80" y2="745.28" stroke="#cc2222" stroke-width="1.2"/><line x1="51.31" y1="742.59" x2="56.69" y2="747.97" stroke="#cc2222" stroke-width="1.2"/><line x1="54.00" y1="741.48" x2="54.00" y2="749.08" stroke="#cc2222" stroke-width="1.2"/><line x1="56.69" y1="742.59" x2="51.31" y2="747.97" stroke="#cc2222" stroke-width="1.2"/>
<line x1="82.20" y1="745.28" x2="89.80" y2="745.28" stroke="#cc2222" stroke-width="1.2"/><line x1="83.31" y1="742.59" x2="88.69" y2="747.97" stroke="#cc2222" stroke-width="1.2"/><line x1="86.00" y1="741.48" x2="86.00" y2="749.08" stroke="#cc2222" stroke-width="1.2"/><line x1="88.69" y1="742.59" x2="83.31" y2="747.97" stroke="#cc2222" stroke-width="1.2"/>
<line x1="114.20" y1="745.28" x2="121.80" y2="745.28" stroke="#cc2222" stroke-width="1.2"/><line x1="115.31" y1="742.59" x2="120.69" y2="747.97" stroke="#cc2222" stroke-width="1.2"/><line x1="118.00" y1="741.48" x2="118.00" y2="749.08" stroke="#cc2222" stroke-width="1.2"/><line x1="120.69" y1="742.59" x2="115.31" y2="747.97" stroke="#cc2222" stroke-width="1.2"/>
<line x1="146.20" y1="745.47" x2="153.80" y2="745.47" stroke="#cc2222" stroke-width="1.2"/><line x1="147.31" y1="742.79" x2="152.69" y2="748.16" stroke="#cc2222" stroke-width="1.2"/><line x1="150.00" y1="741.67" x2="150.00" y2="749.27" stroke="#cc2222" stroke-width="1.2"/><line x1="152.69" y1="742.79" x2="147.31" y2="748.16" stroke="#cc2222" stroke-width="1.2"/>
<line x1="178.20" y1="745.47" x2="185.80" y2="745.47" stroke="#cc2222" stroke-width="1.2"/><line x1="179.31" y1="742.79" x2="184.69" y2="748.16" stroke="#cc2222" stroke-width="1.2"/><line x1="182.00" y1="741.67" x2="182.00" y2="749.27" stroke="#cc2222" stroke-width="1.2"/><line x1="184.69" y1="742.79" x2="179.31" y2="748.16" stroke="#cc2222" stroke-width="1.2"/>
<line x1="210.20" y1="745.47" x2="217.80" y2="745.47" stroke="#cc2222" stroke-width="1.2"/><line x1="211.31" y1="742.79" x2="216.69" y2="748.16" stroke="#cc2222" stroke-width="1.2"/><line x1="214.00" y1="741.67" x2="214.00" y2="749.27" stroke="#cc2222" stroke-width="1.2"/><line x1="216.69" y1="742.79" x2="211.31" y2="748.16" stroke="#cc2222" stroke-width="1.2"/>
<polyline points="22.00,690.22 54.00,759.09 86.00,759.28 118.00,759.09 150.00,759.09 182.00,759.48 214.00,759.48" fill="none" stroke="#66e63a" stroke-width="1.7"/>
<line x1="18.20" y1="690.22" x2="25.80" y2="690.22" stroke="#4ee620" stroke-width="1.2"/><line x1="19.31" y1="687.54" x2="24.69" y2="692.91" stroke="#4ee620" stroke-width="1.2"/><line x1="22.00" y1="686.42" x2="22.00" y2="694.02" stroke="#4ee620" stroke-width="1.2"/><line x1="24.69" y1="687.54" x2="19.31" y2="692.91" stroke="#4ee620" stroke-width="1.2"/>
<line x1="50.20" y1="759.09" x2="57.80" y2="759.09" stroke="#4ee620" stroke-width="1.2"/><line x1="51.31" y1="756.41" x2="56.69" y2="761.78" stroke="#4ee620" stroke-width="1.2"/><line x1="54.00" y1="755.29" x2="54.00" y2="762.89" stroke="#4ee620" stroke-width="1.2"/><line x1="56.69" y1="756.41" x2="51.31" y2="761.78" stroke="#4ee620" stroke-width="1.2"/>
<line x1="82.20" y1="759.28" x2="89.80" y2="759.28" stroke="#4ee620" stroke-width="1.2"/><line x1="83.31" y1="756.60" x2="88.69" y2="761.97" stroke="#4ee620" stroke-width="1.2"/><line x1="86.00" y1="755.48" x2="86.00" y2="763.08" stroke="#4ee620" stroke-width="1.2"/><line x1="88.69" y1="756.60" x2="83.31" y2="761.97" stroke="#4ee620" stroke-width="1.2"/>
<line x1="114.20" y1="759.09" x2="121.80" y2="759.09" stroke="#4ee620" stroke-width="1.2"/><line x1="115.31" y1="756.41" x2="120.69" y2="761.78" stroke="#4ee620" stroke-width="1.2"/><line x1="118.00" y1="755.29" x2="118.00" y2="762.89" stroke="#4ee620" stroke-width="1.2"/><line x1="120.69" y1="756.41" x2="115.31" y2="761.78" stroke="#4ee620" stroke-width="1.2"/>
<line x1="146.20" y1="759.09" x2="153.80" y2="759.09" stroke="#4ee620" stroke-width="1.2"/><line x1="147.31" y1="756.41" x2="152.69" y2="761.78" stroke="#4ee620" stroke-width="1.2"/><line x1="150.00" y1="755.29" x2="150.00" y2="762.89" stroke="#4ee620" stroke-width="1.2"/><line x1="152.69" y1="756.41" x2="147.31" y2="761.78" stroke="#4ee620" stroke-width="1.2"/>
<line x1="178.20" y1="759.48" x2="185.80" y2="759.48" stroke="#4ee620" stroke-width="1.2"/><line x1="179.31" y1="756.79" x2="184.69" y2="762.16" stroke="#4ee620" stroke-width="1.2"/><line x1="182.00" y1="755.68" x2="182.00" y2="763.28" stroke="#4ee620" stroke-width="1.2"/><line x1="184.69" y1="756.79" x2="179.31" y2="762.16" stroke="#4ee620" stroke-width="1.2"/>
<line x1="210.20" y1="759.48" x2="217.80" y2="759.48" stroke="#4ee620" stroke-width="1.2"/><line x1="211.31" y1="756.79" x2="216.69" y2="762.16" stroke="#4ee620" stroke-width="1.2"/><line x1="214.00" y1="755.68" x2="214.00" y2="763.28" stroke="#4ee620" stroke-width="1.2"/><line x1="216.69" y1="756.79" x2="211.31" y2="762.16" stroke="#4ee620" stroke-width="1.2"/>
<line x1="22.00" y1="681.40" x2="22.00" y2="796.50" stroke="#262626" stroke-width="1.3"/>
<line x1="21.35" y1="796.50" x2="215.50" y2="796.50" stroke="#262626" stroke-width="1.3"/>
<line x1="18.70" y1="796.50" x2="22.00" y2="796.50" stroke="#262626" stroke-width="1.1"/>
<text x="17.40" y="798.80" font-size="6.4" fill="#555555" text-anchor="end" font-weight="normal" stroke="#555555" stroke-width="0.2">0</text>
<line x1="18.70" y1="777.32" x2="22.00" y2="777.32" stroke="#262626" stroke-width="1.1"/>
<text x="17.40" y="779.62" font-size="6.4" fill="#555555" text-anchor="end" font-weight="normal" stroke="#555555" stroke-width="0.2">10</text>
<line x1="18.70" y1="758.13" x2="22.00" y2="758.13" stroke="#262626" stroke-width="1.1"/>
<text x="17.40" y="760.44" font-size="6.4" fill="#555555" text-anchor="end" font-weight="normal" stroke="#555555" stroke-width="0.2">20</text>
<line x1="18.70" y1="738.95" x2="22.00" y2="738.95" stroke="#262626" stroke-width="1.1"/>
<text x="17.40" y="741.25" font-size="6.4" fill="#555555" text-anchor="end" font-weight="normal" stroke="#555555" stroke-width="0.2">30</text>
<line x1="18.70" y1="719.77" x2="22.00" y2="719.77" stroke="#262626" stroke-width="1.1"/>
<text x="17.40" y="722.07" font-size="6.4" fill="#555555" text-anchor="end" font-weight="normal" stroke="#555555" stroke-width="0.2">40</text>
<line x1="18.70" y1="700.58" x2="22.00" y2="700.58" stroke="#262626" stroke-width="1.1"/>
<text x="17.40" y="702.89" font-size="6.4" fill="#555555" text-anchor="end" font-weight="normal" stroke="#555555" stroke-width="0.2">50</text>
<line x1="18.70" y1="681.40" x2="22.00" y2="681.40" stroke="#262626" stroke-width="1.1"/>
<text x="17.40" y="683.70" font-size="6.4" fill="#555555" text-anchor="end" font-weight="normal" stroke="#555555" stroke-width="0.2">60</text>
<line x1="22.00" y1="796.50" x2="22.00" y2="799.80" stroke="#262626" stroke-width="1.1"/>
<text x="21.00" y="807.40" font-size="6.4" fill="#555555" text-anchor="middle" font-weight="normal" stroke="#555555" stroke-width="0.2">0</text>
<line x1="54.00" y1="796.50" x2="54.00" y2="799.80" stroke="#262626" stroke-width="1.1"/>
<text x="53.00" y="807.40" font-size="6.4" fill="#555555" text-anchor="middle" font-weight="normal" stroke="#555555" stroke-width="0.2">1</text>
<line x1="86.00" y1="796.50" x2="86.00" y2="799.80" stroke="#262626" stroke-width="1.1"/>
<text x="85.00" y="807.40" font-size="6.4" fill="#555555" text-anchor="middle" font-weight="normal" stroke="#555555" stroke-width="0.2">2</text>
<line x1="118.00" y1="796.50" x2="118.00" y2="799.80" stroke="#262626" stroke-width="1.1"/>
<text x="117.00" y="807.40" font-size="6.4" fill="#555555" text-anchor="middle" font-weight="normal" stroke="#555555" stroke-width="0.2">3</text>
<line x1="150.00" y1="796.50" x2="150.00" y2="799.80" stroke="#262626" stroke-width="1.1"/>
<text x="149.00" y="807.40" font-size="6.4" fill="#555555" text-anchor="middle" font-weight="normal" stroke="#555555" stroke-width="0.2">5</text>
<line x1="182.00" y1="796.50" x2="182.00" y2="799.80" stroke="#262626" stroke-width="1.1"/>
<text x="181.00" y="807.40" font-size="6.4" fill="#555555" text-anchor="middle" font-weight="normal" stroke="#555555" stroke-width="0.2">7</text>
<line x1="214.00" y1="796.50" x2="214.00" y2="799.80" stroke="#262626" stroke-width="1.1"/>
<text x="213.00" y="807.40" font-size="6.4" fill="#555555" text-anchor="middle" font-weight="normal" stroke="#555555" stroke-width="0.2">9</text>
<text x="114.15" y="816.70" font-size="8.0" fill="#555555" text-anchor="middle" font-weight="normal" stroke="#555555" stroke-width="0.2">Compression level</text>
<text x="6.00" y="743.40" font-size="8.0" fill="#555555" text-anchor="middle" font-weight="normal" stroke="#555555" stroke-width="0.2" transform="rotate(-90 6.00 743.40)">Volume size( GiB)</text>
<text x="110.75" y="675.90" font-size="9.5" fill="#262626" text-anchor="middle" font-weight="normal" stroke="#262626" stroke-width="0.2">Data size vs compression level</text>
<text x="-0.40" y="668.00" font-size="10.5" fill="#000" text-anchor="start" font-weight="bold">i</text>
<rect x="137.20" y="686.30" width="69.70" height="26.10" fill="#fff" stroke="#262626" stroke-width="1.0"/>
<line x1="141.50" y1="694.20" x2="181.80" y2="694.20" stroke="#d43c3c" stroke-width="1.7"/>
<line x1="157.90" y1="694.20" x2="165.50" y2="694.20" stroke="#cc2222" stroke-width="1.2"/><line x1="159.01" y1="691.51" x2="164.39" y2="696.89" stroke="#cc2222" stroke-width="1.2"/><line x1="161.70" y1="690.40" x2="161.70" y2="698.00" stroke="#cc2222" stroke-width="1.2"/><line x1="164.39" y1="691.51" x2="159.01" y2="696.89" stroke="#cc2222" stroke-width="1.2"/>
<text x="185.30" y="697.15" font-size="8.2" fill="#262626" text-anchor="start" font-weight="normal" stroke="#262626" stroke-width="0.2">lz4</text>
<line x1="141.50" y1="705.00" x2="181.80" y2="705.00" stroke="#66e63a" stroke-width="1.7"/>
<line x1="157.90" y1="705.00" x2="165.50" y2="705.00" stroke="#4ee620" stroke-width="1.2"/><line x1="159.01" y1="702.31" x2="164.39" y2="707.69" stroke="#4ee620" stroke-width="1.2"/><line x1="161.70" y1="701.20" x2="161.70" y2="708.80" stroke="#4ee620" stroke-width="1.2"/><line x1="164.39" y1="702.31" x2="159.01" y2="707.69" stroke="#4ee620" stroke-width="1.2"/>
<text x="185.30" y="707.95" font-size="8.2" fill="#262626" text-anchor="start" font-weight="normal" stroke="#262626" stroke-width="0.2">zstd</text>
</svg></body></html>
